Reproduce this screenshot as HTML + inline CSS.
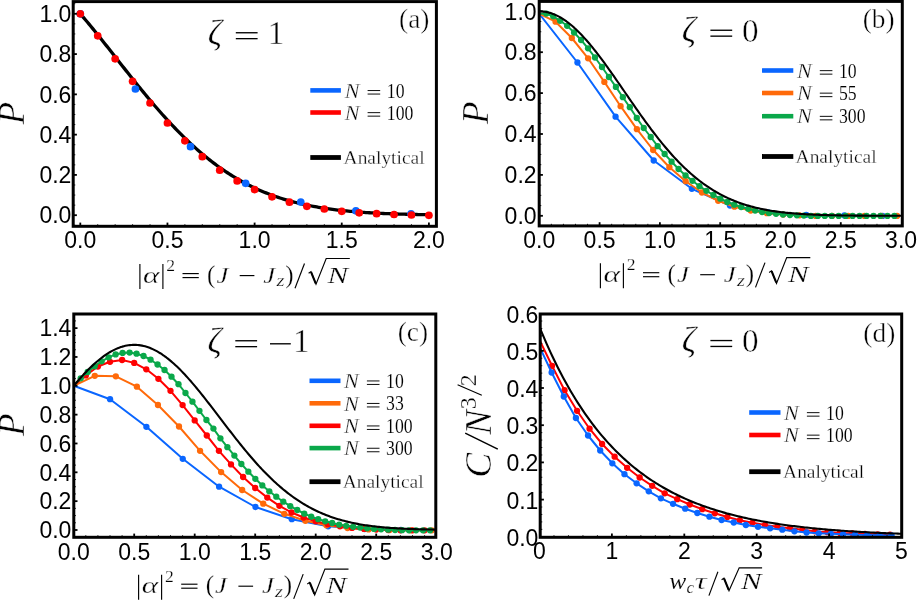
<!DOCTYPE html>
<html lang="en">
<head>
<meta charset="utf-8">
<title>Figure</title>
<style>
html,body{margin:0;padding:0;background:#fff;}
body{width:917px;height:600px;overflow:hidden;font-family:"Liberation Sans",sans-serif;}
svg{display:block;will-change:transform;opacity:0.9999;}
text{fill:#000;}
</style>
</head>
<body>
<svg width="917" height="600" viewBox="0 0 917 600">
<rect width="917" height="600" fill="#fff"/>
<g id="panel-a">
<clipPath id="clipA"><rect x="73.2" y="1.6" width="363.2" height="224.7"/></clipPath>
<g clip-path="url(#clipA)">
<path d="M80.3 13.8 L82.05 15.83 L83.8 17.89 L85.56 19.96 L87.31 22.05 L89.06 24.15 L90.81 26.27 L92.56 28.41 L94.31 30.56 L96.07 32.72 L97.82 34.89 L99.57 37.07 L101.32 39.26 L103.07 41.46 L104.82 43.66 L106.58 45.88 L108.33 48.09 L110.08 50.32 L111.83 52.54 L113.58 54.77 L115.34 57 L117.09 59.23 L118.84 61.45 L120.59 63.68 L122.34 65.91 L124.09 68.13 L125.85 70.35 L127.6 72.56 L129.35 74.77 L131.1 76.97 L132.85 79.17 L134.6 81.36 L136.36 83.54 L138.11 85.71 L139.86 87.87 L141.61 90.01 L143.36 92.15 L145.12 94.28 L146.87 96.39 L148.62 98.49 L150.37 100.57 L152.12 102.65 L153.87 104.7 L155.63 106.74 L157.38 108.77 L159.13 110.77 L160.88 112.76 L162.63 114.74 L164.38 116.69 L166.14 118.63 L167.89 120.54 L169.64 122.44 L171.39 124.32 L173.14 126.18 L174.89 128.01 L176.65 129.83 L178.4 131.63 L180.15 133.4 L181.9 135.15 L183.65 136.89 L185.41 138.6 L187.16 140.28 L188.91 141.95 L190.66 143.59 L192.41 145.21 L194.16 146.81 L195.92 148.38 L197.67 149.93 L199.42 151.46 L201.17 152.96 L202.92 154.45 L204.67 155.9 L206.43 157.34 L208.18 158.75 L209.93 160.14 L211.68 161.5 L213.43 162.84 L215.19 164.16 L216.94 165.46 L218.69 166.73 L220.44 167.98 L222.19 169.21 L223.94 170.41 L225.7 171.59 L227.45 172.75 L229.2 173.88 L230.95 175 L232.7 176.09 L234.45 177.16 L236.21 178.21 L237.96 179.23 L239.71 180.24 L241.46 181.22 L243.21 182.18 L244.97 183.13 L246.72 184.05 L248.47 184.95 L250.22 185.83 L251.97 186.69 L253.72 187.53 L255.48 188.35 L257.23 189.15 L258.98 189.94 L260.73 190.7 L262.48 191.45 L264.23 192.18 L265.99 192.89 L267.74 193.58 L269.49 194.26 L271.24 194.92 L272.99 195.56 L274.75 196.19 L276.5 196.79 L278.25 197.39 L280 197.97 L281.75 198.53 L283.5 199.08 L285.26 199.61 L287.01 200.13 L288.76 200.63 L290.51 201.12 L292.26 201.6 L294.01 202.06 L295.77 202.51 L297.52 202.94 L299.27 203.37 L301.02 203.78 L302.77 204.18 L304.53 204.57 L306.28 204.94 L308.03 205.31 L309.78 205.66 L311.53 206 L313.28 206.34 L315.04 206.66 L316.79 206.97 L318.54 207.27 L320.29 207.57 L322.04 207.85 L323.79 208.12 L325.55 208.39 L327.3 208.65 L329.05 208.89 L330.8 209.13 L332.55 209.37 L334.31 209.59 L336.06 209.81 L337.81 210.02 L339.56 210.22 L341.31 210.42 L343.06 210.6 L344.82 210.79 L346.57 210.96 L348.32 211.13 L350.07 211.3 L351.82 211.45 L353.57 211.61 L355.33 211.75 L357.08 211.89 L358.83 212.03 L360.58 212.16 L362.33 212.29 L364.08 212.41 L365.84 212.53 L367.59 212.64 L369.34 212.75 L371.09 212.85 L372.84 212.95 L374.6 213.05 L376.35 213.14 L378.1 213.23 L379.85 213.32 L381.6 213.4 L383.35 213.48 L385.11 213.55 L386.86 213.63 L388.61 213.7 L390.36 213.76 L392.11 213.83 L393.86 213.89 L395.62 213.95 L397.37 214.01 L399.12 214.06 L400.87 214.11 L402.62 214.16 L404.38 214.21 L406.13 214.26 L407.88 214.3 L409.63 214.34 L411.38 214.38 L413.13 214.42 L414.89 214.46 L416.64 214.49 L418.39 214.53 L420.14 214.56 L421.89 214.59 L423.64 214.62 L425.4 214.65 L427.15 214.68 L428.9 214.7" fill="none" stroke="#000" stroke-width="3.3" stroke-linejoin="round" stroke-linecap="butt"/>
<g fill="#0a66ff"><circle cx="80.3" cy="13.8" r="3.85"/><circle cx="135.42" cy="89" r="3.85"/><circle cx="190.54" cy="146.7" r="3.85"/><circle cx="245.66" cy="183.3" r="3.85"/><circle cx="300.77" cy="202" r="3.85"/><circle cx="355.89" cy="210.8" r="3.85"/><circle cx="411.01" cy="213.8" r="3.85"/></g>
<g fill="#ff0000"><circle cx="80.3" cy="13.8" r="3.85"/><circle cx="97.73" cy="35.8" r="3.85"/><circle cx="115.16" cy="58.8" r="3.85"/><circle cx="132.59" cy="81.3" r="3.85"/><circle cx="150.02" cy="103" r="3.85"/><circle cx="167.45" cy="123" r="3.85"/><circle cx="184.88" cy="140.8" r="3.85"/><circle cx="202.31" cy="156.7" r="3.85"/><circle cx="219.74" cy="170.2" r="3.85"/><circle cx="237.17" cy="180.9" r="3.85"/><circle cx="254.6" cy="189.6" r="3.85"/><circle cx="272.03" cy="196.8" r="3.85"/><circle cx="289.46" cy="202.2" r="3.85"/><circle cx="306.89" cy="206.3" r="3.85"/><circle cx="324.32" cy="209" r="3.85"/><circle cx="341.75" cy="211.3" r="3.85"/><circle cx="359.18" cy="212.8" r="3.85"/><circle cx="376.61" cy="213.7" r="3.85"/><circle cx="394.04" cy="214.5" r="3.85"/><circle cx="411.47" cy="215" r="3.85"/><circle cx="428.9" cy="215.3" r="3.85"/></g>
</g>
<line x1="73.2" y1="215.2" x2="76.9" y2="215.2" stroke="#000" stroke-width="1.8"/>
<line x1="73.2" y1="174.92" x2="76.9" y2="174.92" stroke="#000" stroke-width="1.8"/>
<line x1="73.2" y1="134.64" x2="76.9" y2="134.64" stroke="#000" stroke-width="1.8"/>
<line x1="73.2" y1="94.36" x2="76.9" y2="94.36" stroke="#000" stroke-width="1.8"/>
<line x1="73.2" y1="54.08" x2="76.9" y2="54.08" stroke="#000" stroke-width="1.8"/>
<line x1="73.2" y1="13.8" x2="76.9" y2="13.8" stroke="#000" stroke-width="1.8"/>
<line x1="73.2" y1="225.27" x2="75.3" y2="225.27" stroke="#000" stroke-width="0.9"/>
<line x1="73.2" y1="205.13" x2="75.3" y2="205.13" stroke="#000" stroke-width="0.9"/>
<line x1="73.2" y1="195.06" x2="75.3" y2="195.06" stroke="#000" stroke-width="0.9"/>
<line x1="73.2" y1="184.99" x2="75.3" y2="184.99" stroke="#000" stroke-width="0.9"/>
<line x1="73.2" y1="164.85" x2="75.3" y2="164.85" stroke="#000" stroke-width="0.9"/>
<line x1="73.2" y1="154.78" x2="75.3" y2="154.78" stroke="#000" stroke-width="0.9"/>
<line x1="73.2" y1="144.71" x2="75.3" y2="144.71" stroke="#000" stroke-width="0.9"/>
<line x1="73.2" y1="124.57" x2="75.3" y2="124.57" stroke="#000" stroke-width="0.9"/>
<line x1="73.2" y1="114.5" x2="75.3" y2="114.5" stroke="#000" stroke-width="0.9"/>
<line x1="73.2" y1="104.43" x2="75.3" y2="104.43" stroke="#000" stroke-width="0.9"/>
<line x1="73.2" y1="84.29" x2="75.3" y2="84.29" stroke="#000" stroke-width="0.9"/>
<line x1="73.2" y1="74.22" x2="75.3" y2="74.22" stroke="#000" stroke-width="0.9"/>
<line x1="73.2" y1="64.15" x2="75.3" y2="64.15" stroke="#000" stroke-width="0.9"/>
<line x1="73.2" y1="44.01" x2="75.3" y2="44.01" stroke="#000" stroke-width="0.9"/>
<line x1="73.2" y1="33.94" x2="75.3" y2="33.94" stroke="#000" stroke-width="0.9"/>
<line x1="73.2" y1="23.87" x2="75.3" y2="23.87" stroke="#000" stroke-width="0.9"/>
<line x1="73.2" y1="3.73" x2="75.3" y2="3.73" stroke="#000" stroke-width="0.9"/>
<line x1="80.3" y1="226.3" x2="80.3" y2="222.6" stroke="#000" stroke-width="1.8"/>
<line x1="167.45" y1="226.3" x2="167.45" y2="222.6" stroke="#000" stroke-width="1.8"/>
<line x1="254.6" y1="226.3" x2="254.6" y2="222.6" stroke="#000" stroke-width="1.8"/>
<line x1="341.75" y1="226.3" x2="341.75" y2="222.6" stroke="#000" stroke-width="1.8"/>
<line x1="428.9" y1="226.3" x2="428.9" y2="222.6" stroke="#000" stroke-width="1.8"/>
<line x1="97.73" y1="226.3" x2="97.73" y2="224.2" stroke="#000" stroke-width="0.9"/>
<line x1="115.16" y1="226.3" x2="115.16" y2="224.2" stroke="#000" stroke-width="0.9"/>
<line x1="132.59" y1="226.3" x2="132.59" y2="224.2" stroke="#000" stroke-width="0.9"/>
<line x1="150.02" y1="226.3" x2="150.02" y2="224.2" stroke="#000" stroke-width="0.9"/>
<line x1="184.88" y1="226.3" x2="184.88" y2="224.2" stroke="#000" stroke-width="0.9"/>
<line x1="202.31" y1="226.3" x2="202.31" y2="224.2" stroke="#000" stroke-width="0.9"/>
<line x1="219.74" y1="226.3" x2="219.74" y2="224.2" stroke="#000" stroke-width="0.9"/>
<line x1="237.17" y1="226.3" x2="237.17" y2="224.2" stroke="#000" stroke-width="0.9"/>
<line x1="272.03" y1="226.3" x2="272.03" y2="224.2" stroke="#000" stroke-width="0.9"/>
<line x1="289.46" y1="226.3" x2="289.46" y2="224.2" stroke="#000" stroke-width="0.9"/>
<line x1="306.89" y1="226.3" x2="306.89" y2="224.2" stroke="#000" stroke-width="0.9"/>
<line x1="324.32" y1="226.3" x2="324.32" y2="224.2" stroke="#000" stroke-width="0.9"/>
<line x1="359.18" y1="226.3" x2="359.18" y2="224.2" stroke="#000" stroke-width="0.9"/>
<line x1="376.61" y1="226.3" x2="376.61" y2="224.2" stroke="#000" stroke-width="0.9"/>
<line x1="394.04" y1="226.3" x2="394.04" y2="224.2" stroke="#000" stroke-width="0.9"/>
<line x1="411.47" y1="226.3" x2="411.47" y2="224.2" stroke="#000" stroke-width="0.9"/>
<rect x="73.2" y="1.6" width="363.2" height="224.7" fill="none" stroke="#000" stroke-width="3"/>
<text x="71.4" y="223.45" font-family='"Liberation Sans", sans-serif' font-size="23" text-anchor="end" >0.0</text>
<text x="71.4" y="183.17" font-family='"Liberation Sans", sans-serif' font-size="23" text-anchor="end" >0.2</text>
<text x="71.4" y="142.89" font-family='"Liberation Sans", sans-serif' font-size="23" text-anchor="end" >0.4</text>
<text x="71.4" y="102.61" font-family='"Liberation Sans", sans-serif' font-size="23" text-anchor="end" >0.6</text>
<text x="71.4" y="62.33" font-family='"Liberation Sans", sans-serif' font-size="23" text-anchor="end" >0.8</text>
<text x="71.4" y="22.05" font-family='"Liberation Sans", sans-serif' font-size="23" text-anchor="end" >1.0</text>
<text x="80.3" y="248.4" font-family='"Liberation Sans", sans-serif' font-size="23" text-anchor="middle" >0.0</text>
<text x="167.45" y="248.4" font-family='"Liberation Sans", sans-serif' font-size="23" text-anchor="middle" >0.5</text>
<text x="254.6" y="248.4" font-family='"Liberation Sans", sans-serif' font-size="23" text-anchor="middle" >1.0</text>
<text x="341.75" y="248.4" font-family='"Liberation Sans", sans-serif' font-size="23" text-anchor="middle" >1.5</text>
<text x="428.9" y="248.4" font-family='"Liberation Sans", sans-serif' font-size="23" text-anchor="middle" >2.0</text>
<text transform="translate(24.2 113.3) rotate(-90)" font-family='"Liberation Serif", serif' font-size="37" text-anchor="middle" font-style="italic" stroke="#fff" stroke-width="0.5">P</text>
<line x1="139.9" y1="264.1" x2="139.9" y2="289.1" stroke="#000" stroke-width="1.15"/>
<text x="143" y="282.7" font-family='"Liberation Serif", serif' font-size="24" text-anchor="start" font-style="italic" textLength="16.4" lengthAdjust="spacingAndGlyphs" stroke="#fff" stroke-width="0.32">&#945;</text>
<line x1="162.9" y1="264.1" x2="162.9" y2="289.1" stroke="#000" stroke-width="1.15"/>
<text x="170.6" y="271.1" font-family='"Liberation Serif", serif' font-size="17.6" text-anchor="middle" stroke="#fff" stroke-width="0.25">2</text>
<line x1="182.5" y1="273.6" x2="198.8" y2="273.6" stroke="#000" stroke-width="1.15"/>
<line x1="182.5" y1="277.6" x2="198.8" y2="277.6" stroke="#000" stroke-width="1.15"/>
<text x="211.2" y="282.7" font-family='"Liberation Serif", serif' font-size="25" text-anchor="middle" stroke="#fff" stroke-width="0.25">(</text>
<text x="216.4" y="282.7" font-family='"Liberation Serif", serif' font-size="23" text-anchor="start" font-style="italic" textLength="11.9" lengthAdjust="spacingAndGlyphs" stroke="#fff" stroke-width="0.32">J</text>
<line x1="239.7" y1="275.6" x2="254.4" y2="275.6" stroke="#000" stroke-width="1.15"/>
<text x="263.2" y="282.7" font-family='"Liberation Serif", serif' font-size="23" text-anchor="start" font-style="italic" textLength="11.9" lengthAdjust="spacingAndGlyphs" stroke="#fff" stroke-width="0.32">J</text>
<text x="276.4" y="286.4" font-family='"Liberation Serif", serif' font-size="16.5" text-anchor="start" font-style="italic" textLength="8" lengthAdjust="spacingAndGlyphs" stroke="#fff" stroke-width="0.25">z</text>
<text x="289.3" y="282.7" font-family='"Liberation Serif", serif' font-size="25" text-anchor="middle" stroke="#fff" stroke-width="0.25">)</text>
<line x1="295" y1="288.3" x2="304.5" y2="263.5" stroke="#000" stroke-width="1.15"/>
<path d="M308.6 273.3 L311 271.7 L316 284.3 L326.2 258.5 L349.8 258.5" fill="none" stroke="#000" stroke-width="1.15" stroke-linejoin="miter"/>
<line x1="311.1" y1="272.1" x2="315.7" y2="283.3" stroke="#000" stroke-width="2.1"/>
<text x="327.4" y="282.7" font-family='"Liberation Serif", serif' font-size="23" text-anchor="start" font-style="italic" textLength="20.6" lengthAdjust="spacingAndGlyphs" stroke="#fff" stroke-width="0.22">N</text>
<text x="214.9" y="44.6" font-family='"Liberation Serif", serif' font-size="35.5" text-anchor="middle" font-style="italic" stroke="#fff" stroke-width="0.4">&#950;</text>
<line x1="235.8" y1="32.75" x2="257.6" y2="32.75" stroke="#000" stroke-width="1.35"/>
<line x1="235.8" y1="38.65" x2="257.6" y2="38.65" stroke="#000" stroke-width="1.35"/>
<text x="276" y="44.2" font-family='"Liberation Serif", serif' font-size="33.2" text-anchor="middle" stroke="#fff" stroke-width="0.45">1</text>
<text x="414.3" y="28.2" font-family='"Liberation Serif", serif' font-size="27.4" text-anchor="middle" stroke="#fff" stroke-width="0.4">(a)</text>
<line x1="310.3" y1="90.4" x2="340.9" y2="90.4" stroke="#0a66ff" stroke-width="4.6"/>
<text x="344.8" y="97.6" font-family='"Liberation Serif", serif' font-size="20.8" text-anchor="start" font-style="italic" textLength="14.8" lengthAdjust="spacingAndGlyphs" stroke="#fff" stroke-width="0.3">N</text>
<line x1="367.6" y1="90.55" x2="380.2" y2="90.55" stroke="#000" stroke-width="0.95"/>
<line x1="367.6" y1="94.05" x2="380.2" y2="94.05" stroke="#000" stroke-width="0.95"/>
<text x="386.8" y="97.5" font-family='"Liberation Serif", serif' font-size="20.2" text-anchor="start" textLength="17.7" lengthAdjust="spacingAndGlyphs" stroke="#fff" stroke-width="0.12">10</text>
<line x1="310.3" y1="112.5" x2="340.9" y2="112.5" stroke="#ff0000" stroke-width="4.6"/>
<text x="344.8" y="119.7" font-family='"Liberation Serif", serif' font-size="20.8" text-anchor="start" font-style="italic" textLength="14.8" lengthAdjust="spacingAndGlyphs" stroke="#fff" stroke-width="0.3">N</text>
<line x1="367.6" y1="112.65" x2="380.2" y2="112.65" stroke="#000" stroke-width="0.95"/>
<line x1="367.6" y1="116.15" x2="380.2" y2="116.15" stroke="#000" stroke-width="0.95"/>
<text x="386.8" y="119.6" font-family='"Liberation Serif", serif' font-size="20.2" text-anchor="start" textLength="26.55" lengthAdjust="spacingAndGlyphs" stroke="#fff" stroke-width="0.12">100</text>
<line x1="310.3" y1="157.5" x2="340.9" y2="157.5" stroke="#000" stroke-width="4.8"/>
<text x="343.6" y="164.1" font-family='"Liberation Serif", serif' font-size="19.45" text-anchor="start" stroke="#fff" stroke-width="0.3">Analytical</text>
</g>
<g id="panel-b">
<clipPath id="clipB"><rect x="539.2" y="1.4" width="363.1" height="224.5"/></clipPath>
<g clip-path="url(#clipB)">
<path d="M539.3 13.8 L577.44 62.5 L615.57 116.7 L653.71 160.5 L691.85 188.8 L729.99 205.5 L768.12 212.4 L806.26 214.8 L844.4 215.5 L882.53 215.9" fill="none" stroke="#0a66ff" stroke-width="2" stroke-linejoin="round" />
<g fill="#0a66ff"><circle cx="577.44" cy="62.5" r="3.15"/><circle cx="615.57" cy="116.7" r="3.15"/><circle cx="653.71" cy="160.5" r="3.15"/><circle cx="691.85" cy="188.8" r="3.15"/><circle cx="729.99" cy="205.5" r="3.15"/><circle cx="768.12" cy="212.4" r="3.15"/><circle cx="806.26" cy="214.8" r="3.15"/><circle cx="844.4" cy="215.5" r="3.15"/><circle cx="882.53" cy="215.9" r="3.15"/></g>
<path d="M539.3 13.8 L555.56 21.7 L571.82 38 L588.09 58.3 L604.35 81.9 L620.61 106.2 L636.87 129.2 L653.13 150 L669.39 167.2 L685.66 181.2 L701.92 192.5 L718.18 200.8 L734.44 206.7 L750.7 210.6 L766.96 213.2 L783.23 214.6 L799.49 215.3 L815.75 215.9 L832.01 215.9 L848.27 215.9 L864.53 215.9 L880.8 215.9 L897.06 215.9" fill="none" stroke="#ff6a0a" stroke-width="2" stroke-linejoin="round" />
<g fill="#ff6a0a"><circle cx="555.56" cy="21.7" r="3.15"/><circle cx="571.82" cy="38" r="3.15"/><circle cx="588.09" cy="58.3" r="3.15"/><circle cx="604.35" cy="81.9" r="3.15"/><circle cx="620.61" cy="106.2" r="3.15"/><circle cx="636.87" cy="129.2" r="3.15"/><circle cx="653.13" cy="150" r="3.15"/><circle cx="669.39" cy="167.2" r="3.15"/><circle cx="685.66" cy="181.2" r="3.15"/><circle cx="701.92" cy="192.5" r="3.15"/><circle cx="718.18" cy="200.8" r="3.15"/><circle cx="734.44" cy="206.7" r="3.15"/><circle cx="750.7" cy="210.6" r="3.15"/><circle cx="766.96" cy="213.2" r="3.15"/><circle cx="783.23" cy="214.6" r="3.15"/><circle cx="799.49" cy="215.3" r="3.15"/><circle cx="815.75" cy="215.9" r="3.15"/><circle cx="832.01" cy="215.9" r="3.15"/><circle cx="848.27" cy="215.9" r="3.15"/><circle cx="864.53" cy="215.9" r="3.15"/><circle cx="880.8" cy="215.9" r="3.15"/><circle cx="897.06" cy="215.9" r="3.15"/></g>
<path d="M539.3 13.8 L546.26 13.6 L553.23 16.3 L560.19 20.8 L567.15 25.8 L574.11 32.5 L581.08 40 L588.04 48.3 L595 57.5 L601.97 67 L608.93 77 L615.89 86.9 L622.85 97.2 L629.82 107.2 L636.78 118 L643.74 128 L650.71 137 L657.67 146.2 L664.63 154 L671.59 161.7 L678.56 169 L685.52 175.4 L692.48 180.8 L699.45 186.2 L706.41 190.8 L713.37 195 L720.33 198.7 L727.3 202 L734.26 204.7 L741.22 207 L748.19 208.8 L755.15 210.5 L762.11 212 L769.07 213 L776.04 213.8 L783 214.5 L789.96 215 L796.93 215.3 L803.89 215.6 L810.85 215.9 L817.81 215.9 L824.78 215.9 L831.74 215.9 L838.7 215.9 L845.67 215.9 L852.63 215.9 L859.59 215.9 L866.55 215.9 L873.52 215.9 L880.48 215.9 L887.44 215.9 L894.41 215.9" fill="none" stroke="#0aa84a" stroke-width="2" stroke-linejoin="round" />
<g fill="#0aa84a"><circle cx="546.26" cy="13.6" r="3.15"/><circle cx="553.23" cy="16.3" r="3.15"/><circle cx="560.19" cy="20.8" r="3.15"/><circle cx="567.15" cy="25.8" r="3.15"/><circle cx="574.11" cy="32.5" r="3.15"/><circle cx="581.08" cy="40" r="3.15"/><circle cx="588.04" cy="48.3" r="3.15"/><circle cx="595" cy="57.5" r="3.15"/><circle cx="601.97" cy="67" r="3.15"/><circle cx="608.93" cy="77" r="3.15"/><circle cx="615.89" cy="86.9" r="3.15"/><circle cx="622.85" cy="97.2" r="3.15"/><circle cx="629.82" cy="107.2" r="3.15"/><circle cx="636.78" cy="118" r="3.15"/><circle cx="643.74" cy="128" r="3.15"/><circle cx="650.71" cy="137" r="3.15"/><circle cx="657.67" cy="146.2" r="3.15"/><circle cx="664.63" cy="154" r="3.15"/><circle cx="671.59" cy="161.7" r="3.15"/><circle cx="678.56" cy="169" r="3.15"/><circle cx="685.52" cy="175.4" r="3.15"/><circle cx="692.48" cy="180.8" r="3.15"/><circle cx="699.45" cy="186.2" r="3.15"/><circle cx="706.41" cy="190.8" r="3.15"/><circle cx="713.37" cy="195" r="3.15"/><circle cx="720.33" cy="198.7" r="3.15"/><circle cx="727.3" cy="202" r="3.15"/><circle cx="734.26" cy="204.7" r="3.15"/><circle cx="741.22" cy="207" r="3.15"/><circle cx="748.19" cy="208.8" r="3.15"/><circle cx="755.15" cy="210.5" r="3.15"/><circle cx="762.11" cy="212" r="3.15"/><circle cx="769.07" cy="213" r="3.15"/><circle cx="776.04" cy="213.8" r="3.15"/><circle cx="783" cy="214.5" r="3.15"/><circle cx="789.96" cy="215" r="3.15"/><circle cx="796.93" cy="215.3" r="3.15"/><circle cx="803.89" cy="215.6" r="3.15"/><circle cx="810.85" cy="215.9" r="3.15"/><circle cx="817.81" cy="215.9" r="3.15"/><circle cx="824.78" cy="215.9" r="3.15"/><circle cx="831.74" cy="215.9" r="3.15"/><circle cx="838.7" cy="215.9" r="3.15"/><circle cx="845.67" cy="215.9" r="3.15"/><circle cx="852.63" cy="215.9" r="3.15"/><circle cx="859.59" cy="215.9" r="3.15"/><circle cx="866.55" cy="215.9" r="3.15"/><circle cx="873.52" cy="215.9" r="3.15"/><circle cx="880.48" cy="215.9" r="3.15"/><circle cx="887.44" cy="215.9" r="3.15"/><circle cx="894.41" cy="215.9" r="3.15"/></g>
<path d="M539.3 11.3 L540.81 11.33 L542.33 11.43 L543.84 11.59 L545.36 11.81 L546.87 12.1 L548.38 12.46 L549.9 12.87 L551.41 13.35 L552.92 13.89 L554.44 14.5 L555.95 15.16 L557.47 15.89 L558.98 16.67 L560.49 17.52 L562.01 18.42 L563.52 19.38 L565.03 20.4 L566.55 21.48 L568.06 22.61 L569.58 23.79 L571.09 25.03 L572.6 26.32 L574.12 27.65 L575.63 29.04 L577.15 30.48 L578.66 31.96 L580.17 33.49 L581.69 35.06 L583.2 36.68 L584.71 38.34 L586.23 40.03 L587.74 41.77 L589.26 43.54 L590.77 45.35 L592.28 47.2 L593.8 49.07 L595.31 50.98 L596.82 52.91 L598.34 54.88 L599.85 56.87 L601.37 58.88 L602.88 60.92 L604.39 62.98 L605.91 65.06 L607.42 67.16 L608.94 69.28 L610.45 71.41 L611.96 73.56 L613.48 75.71 L614.99 77.88 L616.5 80.06 L618.02 82.24 L619.53 84.43 L621.05 86.63 L622.56 88.83 L624.07 91.03 L625.59 93.23 L627.1 95.43 L628.61 97.63 L630.13 99.83 L631.64 102.02 L633.16 104.2 L634.67 106.38 L636.18 108.55 L637.7 110.7 L639.21 112.85 L640.73 114.99 L642.24 117.11 L643.75 119.21 L645.27 121.31 L646.78 123.38 L648.29 125.44 L649.81 127.48 L651.32 129.51 L652.84 131.51 L654.35 133.49 L655.86 135.45 L657.38 137.39 L658.89 139.3 L660.4 141.2 L661.92 143.07 L663.43 144.91 L664.95 146.73 L666.46 148.52 L667.97 150.29 L669.49 152.03 L671 153.75 L672.52 155.43 L674.03 157.09 L675.54 158.73 L677.06 160.33 L678.57 161.91 L680.08 163.46 L681.6 164.98 L683.11 166.47 L684.63 167.93 L686.14 169.36 L687.65 170.77 L689.17 172.14 L690.68 173.49 L692.19 174.81 L693.71 176.1 L695.22 177.36 L696.74 178.6 L698.25 179.8 L699.76 180.98 L701.28 182.13 L702.79 183.25 L704.31 184.34 L705.82 185.41 L707.33 186.45 L708.85 187.46 L710.36 188.45 L711.87 189.41 L713.39 190.35 L714.9 191.26 L716.42 192.14 L717.93 193 L719.44 193.84 L720.96 194.65 L722.47 195.44 L723.98 196.2 L725.5 196.94 L727.01 197.66 L728.53 198.36 L730.04 199.04 L731.55 199.69 L733.07 200.33 L734.58 200.94 L736.09 201.54 L737.61 202.11 L739.12 202.67 L740.64 203.2 L742.15 203.72 L743.66 204.22 L745.18 204.71 L746.69 205.17 L748.21 205.62 L749.72 206.06 L751.23 206.48 L752.75 206.88 L754.26 207.27 L755.77 207.65 L757.29 208.01 L758.8 208.35 L760.32 208.69 L761.83 209.01 L763.34 209.32 L764.86 209.61 L766.37 209.9 L767.88 210.17 L769.4 210.43 L770.91 210.68 L772.43 210.93 L773.94 211.16 L775.45 211.38 L776.97 211.59 L778.48 211.8 L780 211.99 L781.51 212.18 L783.02 212.36 L784.54 212.53 L786.05 212.69 L787.56 212.85 L789.08 213 L790.59 213.14 L792.11 213.27 L793.62 213.4 L795.13 213.53 L796.65 213.65 L798.16 213.76 L799.67 213.87 L801.19 213.97 L802.7 214.07 L804.22 214.16 L805.73 214.25 L807.24 214.33 L808.76 214.41 L810.27 214.49 L811.79 214.56 L813.3 214.63 L814.81 214.69 L816.33 214.75 L817.84 214.81 L819.35 214.87 L820.87 214.92 L822.38 214.97 L823.9 215.02 L825.41 215.06 L826.92 215.11 L828.44 215.15 L829.95 215.19 L831.46 215.22 L832.98 215.26 L834.49 215.29 L836.01 215.32 L837.52 215.35 L839.03 215.38 L840.55 215.4 L842.06 215.43 L843.58 215.45 L845.09 215.47 L846.6 215.49 L848.12 215.51 L849.63 215.53 L851.14 215.54 L852.66 215.56 L854.17 215.58 L855.69 215.59 L857.2 215.6 L858.71 215.62 L860.23 215.63 L861.74 215.64 L863.25 215.65 L864.77 215.66 L866.28 215.67 L867.8 215.68 L869.31 215.69 L870.82 215.69 L872.34 215.7 L873.85 215.71 L875.37 215.71 L876.88 215.72 L878.39 215.72 L879.91 215.73 L881.42 215.73 L882.93 215.74 L884.45 215.74 L885.96 215.75 L887.48 215.75 L888.99 215.75 L890.5 215.76 L892.02 215.76 L893.53 215.76 L895.04 215.77 L896.56 215.77 L898.07 215.77 L899.59 215.77 L901.1 215.77" fill="none" stroke="#000" stroke-width="2.1" stroke-linejoin="round" />
</g>
<line x1="539.2" y1="215.8" x2="542.9" y2="215.8" stroke="#000" stroke-width="1.8"/>
<line x1="539.2" y1="174.9" x2="542.9" y2="174.9" stroke="#000" stroke-width="1.8"/>
<line x1="539.2" y1="134" x2="542.9" y2="134" stroke="#000" stroke-width="1.8"/>
<line x1="539.2" y1="93.1" x2="542.9" y2="93.1" stroke="#000" stroke-width="1.8"/>
<line x1="539.2" y1="52.2" x2="542.9" y2="52.2" stroke="#000" stroke-width="1.8"/>
<line x1="539.2" y1="11.3" x2="542.9" y2="11.3" stroke="#000" stroke-width="1.8"/>
<line x1="539.2" y1="226.03" x2="541.3" y2="226.03" stroke="#000" stroke-width="0.9"/>
<line x1="539.2" y1="205.58" x2="541.3" y2="205.58" stroke="#000" stroke-width="0.9"/>
<line x1="539.2" y1="195.35" x2="541.3" y2="195.35" stroke="#000" stroke-width="0.9"/>
<line x1="539.2" y1="185.12" x2="541.3" y2="185.12" stroke="#000" stroke-width="0.9"/>
<line x1="539.2" y1="164.68" x2="541.3" y2="164.68" stroke="#000" stroke-width="0.9"/>
<line x1="539.2" y1="154.45" x2="541.3" y2="154.45" stroke="#000" stroke-width="0.9"/>
<line x1="539.2" y1="144.23" x2="541.3" y2="144.23" stroke="#000" stroke-width="0.9"/>
<line x1="539.2" y1="123.78" x2="541.3" y2="123.78" stroke="#000" stroke-width="0.9"/>
<line x1="539.2" y1="113.55" x2="541.3" y2="113.55" stroke="#000" stroke-width="0.9"/>
<line x1="539.2" y1="103.33" x2="541.3" y2="103.33" stroke="#000" stroke-width="0.9"/>
<line x1="539.2" y1="82.88" x2="541.3" y2="82.88" stroke="#000" stroke-width="0.9"/>
<line x1="539.2" y1="72.65" x2="541.3" y2="72.65" stroke="#000" stroke-width="0.9"/>
<line x1="539.2" y1="62.43" x2="541.3" y2="62.43" stroke="#000" stroke-width="0.9"/>
<line x1="539.2" y1="41.97" x2="541.3" y2="41.97" stroke="#000" stroke-width="0.9"/>
<line x1="539.2" y1="31.75" x2="541.3" y2="31.75" stroke="#000" stroke-width="0.9"/>
<line x1="539.2" y1="21.53" x2="541.3" y2="21.53" stroke="#000" stroke-width="0.9"/>
<line x1="539.2" y1="1.07" x2="541.3" y2="1.07" stroke="#000" stroke-width="0.9"/>
<line x1="599.6" y1="225.9" x2="599.6" y2="222.2" stroke="#000" stroke-width="1.8"/>
<line x1="659.9" y1="225.9" x2="659.9" y2="222.2" stroke="#000" stroke-width="1.8"/>
<line x1="720.2" y1="225.9" x2="720.2" y2="222.2" stroke="#000" stroke-width="1.8"/>
<line x1="780.5" y1="225.9" x2="780.5" y2="222.2" stroke="#000" stroke-width="1.8"/>
<line x1="840.8" y1="225.9" x2="840.8" y2="222.2" stroke="#000" stroke-width="1.8"/>
<line x1="551.36" y1="225.9" x2="551.36" y2="223.8" stroke="#000" stroke-width="0.9"/>
<line x1="563.42" y1="225.9" x2="563.42" y2="223.8" stroke="#000" stroke-width="0.9"/>
<line x1="575.48" y1="225.9" x2="575.48" y2="223.8" stroke="#000" stroke-width="0.9"/>
<line x1="587.54" y1="225.9" x2="587.54" y2="223.8" stroke="#000" stroke-width="0.9"/>
<line x1="611.66" y1="225.9" x2="611.66" y2="223.8" stroke="#000" stroke-width="0.9"/>
<line x1="623.72" y1="225.9" x2="623.72" y2="223.8" stroke="#000" stroke-width="0.9"/>
<line x1="635.78" y1="225.9" x2="635.78" y2="223.8" stroke="#000" stroke-width="0.9"/>
<line x1="647.84" y1="225.9" x2="647.84" y2="223.8" stroke="#000" stroke-width="0.9"/>
<line x1="671.96" y1="225.9" x2="671.96" y2="223.8" stroke="#000" stroke-width="0.9"/>
<line x1="684.02" y1="225.9" x2="684.02" y2="223.8" stroke="#000" stroke-width="0.9"/>
<line x1="696.08" y1="225.9" x2="696.08" y2="223.8" stroke="#000" stroke-width="0.9"/>
<line x1="708.14" y1="225.9" x2="708.14" y2="223.8" stroke="#000" stroke-width="0.9"/>
<line x1="732.26" y1="225.9" x2="732.26" y2="223.8" stroke="#000" stroke-width="0.9"/>
<line x1="744.32" y1="225.9" x2="744.32" y2="223.8" stroke="#000" stroke-width="0.9"/>
<line x1="756.38" y1="225.9" x2="756.38" y2="223.8" stroke="#000" stroke-width="0.9"/>
<line x1="768.44" y1="225.9" x2="768.44" y2="223.8" stroke="#000" stroke-width="0.9"/>
<line x1="792.56" y1="225.9" x2="792.56" y2="223.8" stroke="#000" stroke-width="0.9"/>
<line x1="804.62" y1="225.9" x2="804.62" y2="223.8" stroke="#000" stroke-width="0.9"/>
<line x1="816.68" y1="225.9" x2="816.68" y2="223.8" stroke="#000" stroke-width="0.9"/>
<line x1="828.74" y1="225.9" x2="828.74" y2="223.8" stroke="#000" stroke-width="0.9"/>
<line x1="852.86" y1="225.9" x2="852.86" y2="223.8" stroke="#000" stroke-width="0.9"/>
<line x1="864.92" y1="225.9" x2="864.92" y2="223.8" stroke="#000" stroke-width="0.9"/>
<line x1="876.98" y1="225.9" x2="876.98" y2="223.8" stroke="#000" stroke-width="0.9"/>
<line x1="889.04" y1="225.9" x2="889.04" y2="223.8" stroke="#000" stroke-width="0.9"/>
<rect x="539.2" y="1.4" width="363.1" height="224.5" fill="none" stroke="#000" stroke-width="3"/>
<text x="536.6" y="224.05" font-family='"Liberation Sans", sans-serif' font-size="23" text-anchor="end" >0.0</text>
<text x="536.6" y="183.15" font-family='"Liberation Sans", sans-serif' font-size="23" text-anchor="end" >0.2</text>
<text x="536.6" y="142.25" font-family='"Liberation Sans", sans-serif' font-size="23" text-anchor="end" >0.4</text>
<text x="536.6" y="101.35" font-family='"Liberation Sans", sans-serif' font-size="23" text-anchor="end" >0.6</text>
<text x="536.6" y="60.45" font-family='"Liberation Sans", sans-serif' font-size="23" text-anchor="end" >0.8</text>
<text x="536.6" y="19.55" font-family='"Liberation Sans", sans-serif' font-size="23" text-anchor="end" >1.0</text>
<text x="539.3" y="248.2" font-family='"Liberation Sans", sans-serif' font-size="23" text-anchor="middle" >0.0</text>
<text x="599.6" y="248.2" font-family='"Liberation Sans", sans-serif' font-size="23" text-anchor="middle" >0.5</text>
<text x="659.9" y="248.2" font-family='"Liberation Sans", sans-serif' font-size="23" text-anchor="middle" >1.0</text>
<text x="720.2" y="248.2" font-family='"Liberation Sans", sans-serif' font-size="23" text-anchor="middle" >1.5</text>
<text x="780.5" y="248.2" font-family='"Liberation Sans", sans-serif' font-size="23" text-anchor="middle" >2.0</text>
<text x="840.8" y="248.2" font-family='"Liberation Sans", sans-serif' font-size="23" text-anchor="middle" >2.5</text>
<text x="901.1" y="248.2" font-family='"Liberation Sans", sans-serif' font-size="23" text-anchor="middle" >3.0</text>
<text transform="translate(488.2 112.8) rotate(-90)" font-family='"Liberation Serif", serif' font-size="37" text-anchor="middle" font-style="italic" stroke="#fff" stroke-width="0.5">P</text>
<line x1="600.4" y1="263.2" x2="600.4" y2="288.2" stroke="#000" stroke-width="1.15"/>
<text x="603.5" y="281.8" font-family='"Liberation Serif", serif' font-size="24" text-anchor="start" font-style="italic" textLength="16.4" lengthAdjust="spacingAndGlyphs" stroke="#fff" stroke-width="0.32">&#945;</text>
<line x1="623.4" y1="263.2" x2="623.4" y2="288.2" stroke="#000" stroke-width="1.15"/>
<text x="631.1" y="270.2" font-family='"Liberation Serif", serif' font-size="17.6" text-anchor="middle" stroke="#fff" stroke-width="0.25">2</text>
<line x1="643" y1="272.7" x2="659.3" y2="272.7" stroke="#000" stroke-width="1.15"/>
<line x1="643" y1="276.7" x2="659.3" y2="276.7" stroke="#000" stroke-width="1.15"/>
<text x="671.7" y="281.8" font-family='"Liberation Serif", serif' font-size="25" text-anchor="middle" stroke="#fff" stroke-width="0.25">(</text>
<text x="676.9" y="281.8" font-family='"Liberation Serif", serif' font-size="23" text-anchor="start" font-style="italic" textLength="11.9" lengthAdjust="spacingAndGlyphs" stroke="#fff" stroke-width="0.32">J</text>
<line x1="700.2" y1="274.7" x2="714.9" y2="274.7" stroke="#000" stroke-width="1.15"/>
<text x="723.7" y="281.8" font-family='"Liberation Serif", serif' font-size="23" text-anchor="start" font-style="italic" textLength="11.9" lengthAdjust="spacingAndGlyphs" stroke="#fff" stroke-width="0.32">J</text>
<text x="736.9" y="285.5" font-family='"Liberation Serif", serif' font-size="16.5" text-anchor="start" font-style="italic" textLength="8" lengthAdjust="spacingAndGlyphs" stroke="#fff" stroke-width="0.25">z</text>
<text x="749.8" y="281.8" font-family='"Liberation Serif", serif' font-size="25" text-anchor="middle" stroke="#fff" stroke-width="0.25">)</text>
<line x1="755.5" y1="287.4" x2="765" y2="262.6" stroke="#000" stroke-width="1.15"/>
<path d="M769.1 272.4 L771.5 270.8 L776.5 283.4 L786.7 257.6 L810.3 257.6" fill="none" stroke="#000" stroke-width="1.15" stroke-linejoin="miter"/>
<line x1="771.6" y1="271.2" x2="776.2" y2="282.4" stroke="#000" stroke-width="2.1"/>
<text x="787.9" y="281.8" font-family='"Liberation Serif", serif' font-size="23" text-anchor="start" font-style="italic" textLength="20.6" lengthAdjust="spacingAndGlyphs" stroke="#fff" stroke-width="0.22">N</text>
<text x="689" y="42.1" font-family='"Liberation Serif", serif' font-size="35.5" text-anchor="middle" font-style="italic" stroke="#fff" stroke-width="0.4">&#950;</text>
<line x1="710.4" y1="30.25" x2="732.2" y2="30.25" stroke="#000" stroke-width="1.35"/>
<line x1="710.4" y1="36.15" x2="732.2" y2="36.15" stroke="#000" stroke-width="1.35"/>
<text x="750.4" y="41.7" font-family='"Liberation Serif", serif' font-size="33.2" text-anchor="middle" stroke="#fff" stroke-width="0.45">0</text>
<text x="878.7" y="28.4" font-family='"Liberation Serif", serif' font-size="27.4" text-anchor="middle" stroke="#fff" stroke-width="0.4">(b)</text>
<line x1="762" y1="70.5" x2="793.3" y2="70.5" stroke="#0a66ff" stroke-width="4.6"/>
<text x="797" y="77.7" font-family='"Liberation Serif", serif' font-size="20.8" text-anchor="start" font-style="italic" textLength="14.8" lengthAdjust="spacingAndGlyphs" stroke="#fff" stroke-width="0.3">N</text>
<line x1="819.8" y1="70.65" x2="832.4" y2="70.65" stroke="#000" stroke-width="0.95"/>
<line x1="819.8" y1="74.15" x2="832.4" y2="74.15" stroke="#000" stroke-width="0.95"/>
<text x="839" y="77.6" font-family='"Liberation Serif", serif' font-size="20.2" text-anchor="start" textLength="17.7" lengthAdjust="spacingAndGlyphs" stroke="#fff" stroke-width="0.12">10</text>
<line x1="762" y1="93" x2="793.3" y2="93" stroke="#ff6a0a" stroke-width="4.6"/>
<text x="797" y="100.2" font-family='"Liberation Serif", serif' font-size="20.8" text-anchor="start" font-style="italic" textLength="14.8" lengthAdjust="spacingAndGlyphs" stroke="#fff" stroke-width="0.3">N</text>
<line x1="819.8" y1="93.15" x2="832.4" y2="93.15" stroke="#000" stroke-width="0.95"/>
<line x1="819.8" y1="96.65" x2="832.4" y2="96.65" stroke="#000" stroke-width="0.95"/>
<text x="839" y="100.1" font-family='"Liberation Serif", serif' font-size="20.2" text-anchor="start" textLength="17.7" lengthAdjust="spacingAndGlyphs" stroke="#fff" stroke-width="0.12">55</text>
<line x1="762" y1="116.2" x2="793.3" y2="116.2" stroke="#0aa84a" stroke-width="4.6"/>
<text x="797" y="123.4" font-family='"Liberation Serif", serif' font-size="20.8" text-anchor="start" font-style="italic" textLength="14.8" lengthAdjust="spacingAndGlyphs" stroke="#fff" stroke-width="0.3">N</text>
<line x1="819.8" y1="116.35" x2="832.4" y2="116.35" stroke="#000" stroke-width="0.95"/>
<line x1="819.8" y1="119.85" x2="832.4" y2="119.85" stroke="#000" stroke-width="0.95"/>
<text x="839" y="123.3" font-family='"Liberation Serif", serif' font-size="20.2" text-anchor="start" textLength="26.55" lengthAdjust="spacingAndGlyphs" stroke="#fff" stroke-width="0.12">300</text>
<line x1="762" y1="156.5" x2="793.3" y2="156.5" stroke="#000" stroke-width="4.8"/>
<text x="795.6" y="163.1" font-family='"Liberation Serif", serif' font-size="19.45" text-anchor="start" stroke="#fff" stroke-width="0.3">Analytical</text>
</g>
<g id="panel-c">
<clipPath id="clipC"><rect x="73.8" y="314" width="362" height="223.3"/></clipPath>
<g clip-path="url(#clipC)">
<path d="M73.7 385.8 L110.05 399.2 L146.4 426.8 L182.75 458.8 L219.1 486.7 L255.45 507 L291.8 519.2 L328.15 526.3 L364.5 529 L400.85 530 L437.2 530.3" fill="none" stroke="#0a66ff" stroke-width="2" stroke-linejoin="round" />
<g fill="#0a66ff"><circle cx="110.05" cy="399.2" r="3.15"/><circle cx="146.4" cy="426.8" r="3.15"/><circle cx="182.75" cy="458.8" r="3.15"/><circle cx="219.1" cy="486.7" r="3.15"/><circle cx="255.45" cy="507" r="3.15"/><circle cx="291.8" cy="519.2" r="3.15"/><circle cx="328.15" cy="526.3" r="3.15"/><circle cx="364.5" cy="529" r="3.15"/><circle cx="400.85" cy="530" r="3.15"/></g>
<path d="M73.7 385.8 L94.76 375.8 L115.82 376.3 L136.88 386.7 L157.94 405 L179 426.5 L200.06 450.8 L221.12 472.1 L242.18 490 L263.24 503.7 L284.3 513.8 L305.36 520.8 L326.42 525.3 L347.48 528 L368.54 529.4 L389.6 530.1 L410.66 530.3 L431.72 530.3" fill="none" stroke="#ff6a0a" stroke-width="2" stroke-linejoin="round" />
<g fill="#ff6a0a"><circle cx="94.76" cy="375.8" r="3.15"/><circle cx="115.82" cy="376.3" r="3.15"/><circle cx="136.88" cy="386.7" r="3.15"/><circle cx="157.94" cy="405" r="3.15"/><circle cx="179" cy="426.5" r="3.15"/><circle cx="200.06" cy="450.8" r="3.15"/><circle cx="221.12" cy="472.1" r="3.15"/><circle cx="242.18" cy="490" r="3.15"/><circle cx="263.24" cy="503.7" r="3.15"/><circle cx="284.3" cy="513.8" r="3.15"/><circle cx="305.36" cy="520.8" r="3.15"/><circle cx="326.42" cy="525.3" r="3.15"/><circle cx="347.48" cy="528" r="3.15"/><circle cx="368.54" cy="529.4" r="3.15"/><circle cx="389.6" cy="530.1" r="3.15"/><circle cx="410.66" cy="530.3" r="3.15"/><circle cx="431.72" cy="530.3" r="3.15"/></g>
<path d="M73.7 385.8 L85.8 375.4 L97.9 366.5 L110 361.8 L122.1 360 L134.2 362.9 L146.3 369.3 L158.4 378.8 L170.5 390.8 L182.6 405.1 L194.7 420.4 L206.8 435.5 L218.9 450.8 L231 464.4 L243.1 477 L255.2 488 L267.3 497.6 L279.4 505.8 L291.5 512.5 L303.6 517.5 L315.7 521.3 L327.8 524.2 L339.9 526.3 L352 527.9 L364.1 528.9 L376.2 529.6 L388.3 530.1 L400.4 530.3 L412.5 530.3 L424.6 530.3" fill="none" stroke="#ff0000" stroke-width="2" stroke-linejoin="round" />
<g fill="#ff0000"><circle cx="85.8" cy="375.4" r="3.15"/><circle cx="97.9" cy="366.5" r="3.15"/><circle cx="110" cy="361.8" r="3.15"/><circle cx="122.1" cy="360" r="3.15"/><circle cx="134.2" cy="362.9" r="3.15"/><circle cx="146.3" cy="369.3" r="3.15"/><circle cx="158.4" cy="378.8" r="3.15"/><circle cx="170.5" cy="390.8" r="3.15"/><circle cx="182.6" cy="405.1" r="3.15"/><circle cx="194.7" cy="420.4" r="3.15"/><circle cx="206.8" cy="435.5" r="3.15"/><circle cx="218.9" cy="450.8" r="3.15"/><circle cx="231" cy="464.4" r="3.15"/><circle cx="243.1" cy="477" r="3.15"/><circle cx="255.2" cy="488" r="3.15"/><circle cx="267.3" cy="497.6" r="3.15"/><circle cx="279.4" cy="505.8" r="3.15"/><circle cx="291.5" cy="512.5" r="3.15"/><circle cx="303.6" cy="517.5" r="3.15"/><circle cx="315.7" cy="521.3" r="3.15"/><circle cx="327.8" cy="524.2" r="3.15"/><circle cx="339.9" cy="526.3" r="3.15"/><circle cx="352" cy="527.9" r="3.15"/><circle cx="364.1" cy="528.9" r="3.15"/><circle cx="376.2" cy="529.6" r="3.15"/><circle cx="388.3" cy="530.1" r="3.15"/><circle cx="400.4" cy="530.3" r="3.15"/><circle cx="412.5" cy="530.3" r="3.15"/><circle cx="424.6" cy="530.3" r="3.15"/></g>
<path d="M73.7 385.8 L80.69 378.3 L87.67 372 L94.66 366.3 L101.64 361.3 L108.63 357.3 L115.62 354.4 L122.6 352.9 L129.59 352.6 L136.57 353.7 L143.56 356 L150.55 359.7 L157.53 364.5 L164.52 370 L171.5 376.7 L178.49 384.2 L185.48 393 L192.46 401.7 L199.45 410.8 L206.43 420 L213.42 428.6 L220.41 438.3 L227.39 447.2 L234.38 455.6 L241.36 464 L248.35 471.7 L255.34 478.8 L262.32 485.4 L269.31 491.3 L276.29 496.7 L283.28 501.7 L290.27 506.2 L297.25 510 L304.24 513.7 L311.22 516.7 L318.21 519.2 L325.2 521.3 L332.18 523 L339.17 524.7 L346.15 525.8 L353.14 526.8 L360.13 527.6 L367.11 528.3 L374.1 528.9 L381.08 529.3 L388.07 529.7 L395.06 530 L402.04 530.2 L409.03 530.3 L416.01 530.3 L423 530.3 L429.99 530.3" fill="none" stroke="#0aa84a" stroke-width="2" stroke-linejoin="round" />
<g fill="#0aa84a"><circle cx="80.69" cy="378.3" r="3.15"/><circle cx="87.67" cy="372" r="3.15"/><circle cx="94.66" cy="366.3" r="3.15"/><circle cx="101.64" cy="361.3" r="3.15"/><circle cx="108.63" cy="357.3" r="3.15"/><circle cx="115.62" cy="354.4" r="3.15"/><circle cx="122.6" cy="352.9" r="3.15"/><circle cx="129.59" cy="352.6" r="3.15"/><circle cx="136.57" cy="353.7" r="3.15"/><circle cx="143.56" cy="356" r="3.15"/><circle cx="150.55" cy="359.7" r="3.15"/><circle cx="157.53" cy="364.5" r="3.15"/><circle cx="164.52" cy="370" r="3.15"/><circle cx="171.5" cy="376.7" r="3.15"/><circle cx="178.49" cy="384.2" r="3.15"/><circle cx="185.48" cy="393" r="3.15"/><circle cx="192.46" cy="401.7" r="3.15"/><circle cx="199.45" cy="410.8" r="3.15"/><circle cx="206.43" cy="420" r="3.15"/><circle cx="213.42" cy="428.6" r="3.15"/><circle cx="220.41" cy="438.3" r="3.15"/><circle cx="227.39" cy="447.2" r="3.15"/><circle cx="234.38" cy="455.6" r="3.15"/><circle cx="241.36" cy="464" r="3.15"/><circle cx="248.35" cy="471.7" r="3.15"/><circle cx="255.34" cy="478.8" r="3.15"/><circle cx="262.32" cy="485.4" r="3.15"/><circle cx="269.31" cy="491.3" r="3.15"/><circle cx="276.29" cy="496.7" r="3.15"/><circle cx="283.28" cy="501.7" r="3.15"/><circle cx="290.27" cy="506.2" r="3.15"/><circle cx="297.25" cy="510" r="3.15"/><circle cx="304.24" cy="513.7" r="3.15"/><circle cx="311.22" cy="516.7" r="3.15"/><circle cx="318.21" cy="519.2" r="3.15"/><circle cx="325.2" cy="521.3" r="3.15"/><circle cx="332.18" cy="523" r="3.15"/><circle cx="339.17" cy="524.7" r="3.15"/><circle cx="346.15" cy="525.8" r="3.15"/><circle cx="353.14" cy="526.8" r="3.15"/><circle cx="360.13" cy="527.6" r="3.15"/><circle cx="367.11" cy="528.3" r="3.15"/><circle cx="374.1" cy="528.9" r="3.15"/><circle cx="381.08" cy="529.3" r="3.15"/><circle cx="388.07" cy="529.7" r="3.15"/><circle cx="395.06" cy="530" r="3.15"/><circle cx="402.04" cy="530.2" r="3.15"/><circle cx="409.03" cy="530.3" r="3.15"/><circle cx="416.01" cy="530.3" r="3.15"/><circle cx="423" cy="530.3" r="3.15"/><circle cx="429.99" cy="530.3" r="3.15"/></g>
<path d="M73.7 385.8 L75.22 384 L76.74 382.23 L78.26 380.48 L79.78 378.76 L81.29 377.06 L82.81 375.4 L84.33 373.77 L85.85 372.17 L87.37 370.6 L88.89 369.07 L90.41 367.58 L91.93 366.12 L93.44 364.7 L94.96 363.32 L96.48 361.99 L98 360.69 L99.52 359.45 L101.04 358.24 L102.56 357.08 L104.08 355.97 L105.6 354.91 L107.11 353.89 L108.63 352.93 L110.15 352.01 L111.67 351.15 L113.19 350.34 L114.71 349.59 L116.23 348.88 L117.75 348.24 L119.26 347.64 L120.78 347.11 L122.3 346.63 L123.82 346.2 L125.34 345.83 L126.86 345.52 L128.38 345.27 L129.9 345.08 L131.42 344.94 L132.93 344.86 L134.45 344.84 L135.97 344.88 L137.49 344.98 L139.01 345.14 L140.53 345.35 L142.05 345.62 L143.57 345.95 L145.08 346.34 L146.6 346.78 L148.12 347.28 L149.64 347.83 L151.16 348.45 L152.68 349.11 L154.2 349.83 L155.72 350.61 L157.24 351.43 L158.75 352.31 L160.27 353.24 L161.79 354.23 L163.31 355.26 L164.83 356.34 L166.35 357.46 L167.87 358.64 L169.39 359.86 L170.91 361.12 L172.42 362.43 L173.94 363.78 L175.46 365.17 L176.98 366.6 L178.5 368.07 L180.02 369.58 L181.54 371.12 L183.06 372.7 L184.57 374.31 L186.09 375.95 L187.61 377.62 L189.13 379.33 L190.65 381.06 L192.17 382.82 L193.69 384.6 L195.21 386.4 L196.73 388.23 L198.24 390.08 L199.76 391.95 L201.28 393.84 L202.8 395.74 L204.32 397.66 L205.84 399.59 L207.36 401.53 L208.88 403.49 L210.39 405.45 L211.91 407.43 L213.43 409.41 L214.95 411.39 L216.47 413.38 L217.99 415.37 L219.51 417.37 L221.03 419.36 L222.55 421.35 L224.06 423.34 L225.58 425.33 L227.1 427.31 L228.62 429.29 L230.14 431.26 L231.66 433.22 L233.18 435.17 L234.7 437.11 L236.21 439.04 L237.73 440.96 L239.25 442.87 L240.77 444.76 L242.29 446.64 L243.81 448.5 L245.33 450.34 L246.85 452.17 L248.37 453.98 L249.88 455.77 L251.4 457.54 L252.92 459.3 L254.44 461.03 L255.96 462.74 L257.48 464.43 L259 466.09 L260.52 467.73 L262.03 469.35 L263.55 470.95 L265.07 472.52 L266.59 474.07 L268.11 475.6 L269.63 477.1 L271.15 478.57 L272.67 480.02 L274.19 481.44 L275.7 482.84 L277.22 484.21 L278.74 485.56 L280.26 486.88 L281.78 488.17 L283.3 489.44 L284.82 490.68 L286.34 491.9 L287.85 493.08 L289.37 494.25 L290.89 495.39 L292.41 496.5 L293.93 497.59 L295.45 498.65 L296.97 499.68 L298.49 500.7 L300.01 501.68 L301.52 502.64 L303.04 503.58 L304.56 504.49 L306.08 505.38 L307.6 506.25 L309.12 507.09 L310.64 507.91 L312.16 508.71 L313.67 509.49 L315.19 510.24 L316.71 510.97 L318.23 511.68 L319.75 512.37 L321.27 513.04 L322.79 513.69 L324.31 514.31 L325.83 514.92 L327.34 515.51 L328.86 516.08 L330.38 516.64 L331.9 517.17 L333.42 517.69 L334.94 518.19 L336.46 518.67 L337.98 519.14 L339.49 519.59 L341.01 520.03 L342.53 520.45 L344.05 520.85 L345.57 521.24 L347.09 521.62 L348.61 521.98 L350.13 522.33 L351.65 522.67 L353.16 523 L354.68 523.31 L356.2 523.61 L357.72 523.9 L359.24 524.17 L360.76 524.44 L362.28 524.7 L363.8 524.94 L365.32 525.18 L366.83 525.41 L368.35 525.62 L369.87 525.83 L371.39 526.03 L372.91 526.22 L374.43 526.4 L375.95 526.58 L377.47 526.75 L378.98 526.91 L380.5 527.06 L382.02 527.21 L383.54 527.35 L385.06 527.48 L386.58 527.61 L388.1 527.73 L389.62 527.85 L391.14 527.96 L392.65 528.07 L394.17 528.17 L395.69 528.27 L397.21 528.36 L398.73 528.44 L400.25 528.53 L401.77 528.61 L403.29 528.68 L404.8 528.75 L406.32 528.82 L407.84 528.89 L409.36 528.95 L410.88 529.01 L412.4 529.06 L413.92 529.12 L415.44 529.17 L416.96 529.21 L418.47 529.26 L419.99 529.3 L421.51 529.34 L423.03 529.38 L424.55 529.42 L426.07 529.45 L427.59 529.48 L429.11 529.51 L430.62 529.54 L432.14 529.57 L433.66 529.6 L435.18 529.62 L436.7 529.64" fill="none" stroke="#000" stroke-width="2.1" stroke-linejoin="round" />
</g>
<line x1="73.8" y1="530" x2="77.5" y2="530" stroke="#000" stroke-width="1.8"/>
<line x1="73.8" y1="501.16" x2="77.5" y2="501.16" stroke="#000" stroke-width="1.8"/>
<line x1="73.8" y1="472.32" x2="77.5" y2="472.32" stroke="#000" stroke-width="1.8"/>
<line x1="73.8" y1="443.48" x2="77.5" y2="443.48" stroke="#000" stroke-width="1.8"/>
<line x1="73.8" y1="414.64" x2="77.5" y2="414.64" stroke="#000" stroke-width="1.8"/>
<line x1="73.8" y1="385.8" x2="77.5" y2="385.8" stroke="#000" stroke-width="1.8"/>
<line x1="73.8" y1="356.96" x2="77.5" y2="356.96" stroke="#000" stroke-width="1.8"/>
<line x1="73.8" y1="328.12" x2="77.5" y2="328.12" stroke="#000" stroke-width="1.8"/>
<line x1="73.8" y1="537.21" x2="75.9" y2="537.21" stroke="#000" stroke-width="0.9"/>
<line x1="73.8" y1="522.79" x2="75.9" y2="522.79" stroke="#000" stroke-width="0.9"/>
<line x1="73.8" y1="515.58" x2="75.9" y2="515.58" stroke="#000" stroke-width="0.9"/>
<line x1="73.8" y1="508.37" x2="75.9" y2="508.37" stroke="#000" stroke-width="0.9"/>
<line x1="73.8" y1="493.95" x2="75.9" y2="493.95" stroke="#000" stroke-width="0.9"/>
<line x1="73.8" y1="486.74" x2="75.9" y2="486.74" stroke="#000" stroke-width="0.9"/>
<line x1="73.8" y1="479.53" x2="75.9" y2="479.53" stroke="#000" stroke-width="0.9"/>
<line x1="73.8" y1="465.11" x2="75.9" y2="465.11" stroke="#000" stroke-width="0.9"/>
<line x1="73.8" y1="457.9" x2="75.9" y2="457.9" stroke="#000" stroke-width="0.9"/>
<line x1="73.8" y1="450.69" x2="75.9" y2="450.69" stroke="#000" stroke-width="0.9"/>
<line x1="73.8" y1="436.27" x2="75.9" y2="436.27" stroke="#000" stroke-width="0.9"/>
<line x1="73.8" y1="429.06" x2="75.9" y2="429.06" stroke="#000" stroke-width="0.9"/>
<line x1="73.8" y1="421.85" x2="75.9" y2="421.85" stroke="#000" stroke-width="0.9"/>
<line x1="73.8" y1="407.43" x2="75.9" y2="407.43" stroke="#000" stroke-width="0.9"/>
<line x1="73.8" y1="400.22" x2="75.9" y2="400.22" stroke="#000" stroke-width="0.9"/>
<line x1="73.8" y1="393.01" x2="75.9" y2="393.01" stroke="#000" stroke-width="0.9"/>
<line x1="73.8" y1="378.59" x2="75.9" y2="378.59" stroke="#000" stroke-width="0.9"/>
<line x1="73.8" y1="371.38" x2="75.9" y2="371.38" stroke="#000" stroke-width="0.9"/>
<line x1="73.8" y1="364.17" x2="75.9" y2="364.17" stroke="#000" stroke-width="0.9"/>
<line x1="73.8" y1="349.75" x2="75.9" y2="349.75" stroke="#000" stroke-width="0.9"/>
<line x1="73.8" y1="342.54" x2="75.9" y2="342.54" stroke="#000" stroke-width="0.9"/>
<line x1="73.8" y1="335.33" x2="75.9" y2="335.33" stroke="#000" stroke-width="0.9"/>
<line x1="73.8" y1="320.91" x2="75.9" y2="320.91" stroke="#000" stroke-width="0.9"/>
<line x1="73.8" y1="313.7" x2="75.9" y2="313.7" stroke="#000" stroke-width="0.9"/>
<line x1="134.2" y1="537.3" x2="134.2" y2="533.6" stroke="#000" stroke-width="1.8"/>
<line x1="194.7" y1="537.3" x2="194.7" y2="533.6" stroke="#000" stroke-width="1.8"/>
<line x1="255.2" y1="537.3" x2="255.2" y2="533.6" stroke="#000" stroke-width="1.8"/>
<line x1="315.7" y1="537.3" x2="315.7" y2="533.6" stroke="#000" stroke-width="1.8"/>
<line x1="376.2" y1="537.3" x2="376.2" y2="533.6" stroke="#000" stroke-width="1.8"/>
<line x1="85.8" y1="537.3" x2="85.8" y2="535.2" stroke="#000" stroke-width="0.9"/>
<line x1="97.9" y1="537.3" x2="97.9" y2="535.2" stroke="#000" stroke-width="0.9"/>
<line x1="110" y1="537.3" x2="110" y2="535.2" stroke="#000" stroke-width="0.9"/>
<line x1="122.1" y1="537.3" x2="122.1" y2="535.2" stroke="#000" stroke-width="0.9"/>
<line x1="146.3" y1="537.3" x2="146.3" y2="535.2" stroke="#000" stroke-width="0.9"/>
<line x1="158.4" y1="537.3" x2="158.4" y2="535.2" stroke="#000" stroke-width="0.9"/>
<line x1="170.5" y1="537.3" x2="170.5" y2="535.2" stroke="#000" stroke-width="0.9"/>
<line x1="182.6" y1="537.3" x2="182.6" y2="535.2" stroke="#000" stroke-width="0.9"/>
<line x1="206.8" y1="537.3" x2="206.8" y2="535.2" stroke="#000" stroke-width="0.9"/>
<line x1="218.9" y1="537.3" x2="218.9" y2="535.2" stroke="#000" stroke-width="0.9"/>
<line x1="231" y1="537.3" x2="231" y2="535.2" stroke="#000" stroke-width="0.9"/>
<line x1="243.1" y1="537.3" x2="243.1" y2="535.2" stroke="#000" stroke-width="0.9"/>
<line x1="267.3" y1="537.3" x2="267.3" y2="535.2" stroke="#000" stroke-width="0.9"/>
<line x1="279.4" y1="537.3" x2="279.4" y2="535.2" stroke="#000" stroke-width="0.9"/>
<line x1="291.5" y1="537.3" x2="291.5" y2="535.2" stroke="#000" stroke-width="0.9"/>
<line x1="303.6" y1="537.3" x2="303.6" y2="535.2" stroke="#000" stroke-width="0.9"/>
<line x1="327.8" y1="537.3" x2="327.8" y2="535.2" stroke="#000" stroke-width="0.9"/>
<line x1="339.9" y1="537.3" x2="339.9" y2="535.2" stroke="#000" stroke-width="0.9"/>
<line x1="352" y1="537.3" x2="352" y2="535.2" stroke="#000" stroke-width="0.9"/>
<line x1="364.1" y1="537.3" x2="364.1" y2="535.2" stroke="#000" stroke-width="0.9"/>
<line x1="388.3" y1="537.3" x2="388.3" y2="535.2" stroke="#000" stroke-width="0.9"/>
<line x1="400.4" y1="537.3" x2="400.4" y2="535.2" stroke="#000" stroke-width="0.9"/>
<line x1="412.5" y1="537.3" x2="412.5" y2="535.2" stroke="#000" stroke-width="0.9"/>
<line x1="424.6" y1="537.3" x2="424.6" y2="535.2" stroke="#000" stroke-width="0.9"/>
<rect x="73.8" y="314" width="362" height="223.3" fill="none" stroke="#000" stroke-width="3"/>
<text x="71.4" y="538.25" font-family='"Liberation Sans", sans-serif' font-size="23" text-anchor="end" >0.0</text>
<text x="71.4" y="509.41" font-family='"Liberation Sans", sans-serif' font-size="23" text-anchor="end" >0.2</text>
<text x="71.4" y="480.57" font-family='"Liberation Sans", sans-serif' font-size="23" text-anchor="end" >0.4</text>
<text x="71.4" y="451.73" font-family='"Liberation Sans", sans-serif' font-size="23" text-anchor="end" >0.6</text>
<text x="71.4" y="422.89" font-family='"Liberation Sans", sans-serif' font-size="23" text-anchor="end" >0.8</text>
<text x="71.4" y="394.05" font-family='"Liberation Sans", sans-serif' font-size="23" text-anchor="end" >1.0</text>
<text x="71.4" y="365.21" font-family='"Liberation Sans", sans-serif' font-size="23" text-anchor="end" >1.2</text>
<text x="71.4" y="336.37" font-family='"Liberation Sans", sans-serif' font-size="23" text-anchor="end" >1.4</text>
<text x="73.7" y="559.6" font-family='"Liberation Sans", sans-serif' font-size="23" text-anchor="middle" >0.0</text>
<text x="134.2" y="559.6" font-family='"Liberation Sans", sans-serif' font-size="23" text-anchor="middle" >0.5</text>
<text x="194.7" y="559.6" font-family='"Liberation Sans", sans-serif' font-size="23" text-anchor="middle" >1.0</text>
<text x="255.2" y="559.6" font-family='"Liberation Sans", sans-serif' font-size="23" text-anchor="middle" >1.5</text>
<text x="315.7" y="559.6" font-family='"Liberation Sans", sans-serif' font-size="23" text-anchor="middle" >2.0</text>
<text x="376.2" y="559.6" font-family='"Liberation Sans", sans-serif' font-size="23" text-anchor="middle" >2.5</text>
<text x="436.7" y="559.6" font-family='"Liberation Sans", sans-serif' font-size="23" text-anchor="middle" >3.0</text>
<text transform="translate(24.2 424.7) rotate(-90)" font-family='"Liberation Serif", serif' font-size="37" text-anchor="middle" font-style="italic" stroke="#fff" stroke-width="0.5">P</text>
<line x1="138.6" y1="574.7" x2="138.6" y2="599.7" stroke="#000" stroke-width="1.15"/>
<text x="141.7" y="593.3" font-family='"Liberation Serif", serif' font-size="24" text-anchor="start" font-style="italic" textLength="16.4" lengthAdjust="spacingAndGlyphs" stroke="#fff" stroke-width="0.32">&#945;</text>
<line x1="161.6" y1="574.7" x2="161.6" y2="599.7" stroke="#000" stroke-width="1.15"/>
<text x="169.3" y="581.7" font-family='"Liberation Serif", serif' font-size="17.6" text-anchor="middle" stroke="#fff" stroke-width="0.25">2</text>
<line x1="181.2" y1="584.2" x2="197.5" y2="584.2" stroke="#000" stroke-width="1.15"/>
<line x1="181.2" y1="588.2" x2="197.5" y2="588.2" stroke="#000" stroke-width="1.15"/>
<text x="209.9" y="593.3" font-family='"Liberation Serif", serif' font-size="25" text-anchor="middle" stroke="#fff" stroke-width="0.25">(</text>
<text x="215.1" y="593.3" font-family='"Liberation Serif", serif' font-size="23" text-anchor="start" font-style="italic" textLength="11.9" lengthAdjust="spacingAndGlyphs" stroke="#fff" stroke-width="0.32">J</text>
<line x1="238.4" y1="586.2" x2="253.1" y2="586.2" stroke="#000" stroke-width="1.15"/>
<text x="261.9" y="593.3" font-family='"Liberation Serif", serif' font-size="23" text-anchor="start" font-style="italic" textLength="11.9" lengthAdjust="spacingAndGlyphs" stroke="#fff" stroke-width="0.32">J</text>
<text x="275.1" y="597" font-family='"Liberation Serif", serif' font-size="16.5" text-anchor="start" font-style="italic" textLength="8" lengthAdjust="spacingAndGlyphs" stroke="#fff" stroke-width="0.25">z</text>
<text x="288" y="593.3" font-family='"Liberation Serif", serif' font-size="25" text-anchor="middle" stroke="#fff" stroke-width="0.25">)</text>
<line x1="293.7" y1="598.9" x2="303.2" y2="574.1" stroke="#000" stroke-width="1.15"/>
<path d="M307.3 583.9 L309.7 582.3 L314.7 594.9 L324.9 569.1 L348.5 569.1" fill="none" stroke="#000" stroke-width="1.15" stroke-linejoin="miter"/>
<line x1="309.8" y1="582.7" x2="314.4" y2="593.9" stroke="#000" stroke-width="2.1"/>
<text x="326.1" y="593.3" font-family='"Liberation Serif", serif' font-size="23" text-anchor="start" font-style="italic" textLength="20.6" lengthAdjust="spacingAndGlyphs" stroke="#fff" stroke-width="0.22">N</text>
<text x="214.7" y="352.6" font-family='"Liberation Serif", serif' font-size="35.5" text-anchor="middle" font-style="italic" stroke="#fff" stroke-width="0.4">&#950;</text>
<line x1="235.3" y1="340.75" x2="257.1" y2="340.75" stroke="#000" stroke-width="1.35"/>
<line x1="235.3" y1="346.65" x2="257.1" y2="346.65" stroke="#000" stroke-width="1.35"/>
<line x1="270" y1="343.8" x2="290.8" y2="343.8" stroke="#000" stroke-width="1.35"/>
<text x="301.2" y="352.2" font-family='"Liberation Serif", serif' font-size="33.2" text-anchor="middle" stroke="#fff" stroke-width="0.45">1</text>
<text x="412.9" y="341" font-family='"Liberation Serif", serif' font-size="27.4" text-anchor="middle" stroke="#fff" stroke-width="0.4">(c)</text>
<line x1="309.5" y1="380.8" x2="340.5" y2="380.8" stroke="#0a66ff" stroke-width="4.6"/>
<text x="344.1" y="388" font-family='"Liberation Serif", serif' font-size="20.8" text-anchor="start" font-style="italic" textLength="14.8" lengthAdjust="spacingAndGlyphs" stroke="#fff" stroke-width="0.3">N</text>
<line x1="366.9" y1="380.95" x2="379.5" y2="380.95" stroke="#000" stroke-width="0.95"/>
<line x1="366.9" y1="384.45" x2="379.5" y2="384.45" stroke="#000" stroke-width="0.95"/>
<text x="386.1" y="387.9" font-family='"Liberation Serif", serif' font-size="20.2" text-anchor="start" textLength="17.7" lengthAdjust="spacingAndGlyphs" stroke="#fff" stroke-width="0.12">10</text>
<line x1="309.5" y1="403.3" x2="340.5" y2="403.3" stroke="#ff6a0a" stroke-width="4.6"/>
<text x="344.1" y="410.5" font-family='"Liberation Serif", serif' font-size="20.8" text-anchor="start" font-style="italic" textLength="14.8" lengthAdjust="spacingAndGlyphs" stroke="#fff" stroke-width="0.3">N</text>
<line x1="366.9" y1="403.45" x2="379.5" y2="403.45" stroke="#000" stroke-width="0.95"/>
<line x1="366.9" y1="406.95" x2="379.5" y2="406.95" stroke="#000" stroke-width="0.95"/>
<text x="386.1" y="410.4" font-family='"Liberation Serif", serif' font-size="20.2" text-anchor="start" textLength="17.7" lengthAdjust="spacingAndGlyphs" stroke="#fff" stroke-width="0.12">33</text>
<line x1="309.5" y1="425.8" x2="340.5" y2="425.8" stroke="#ff0000" stroke-width="4.6"/>
<text x="344.1" y="433" font-family='"Liberation Serif", serif' font-size="20.8" text-anchor="start" font-style="italic" textLength="14.8" lengthAdjust="spacingAndGlyphs" stroke="#fff" stroke-width="0.3">N</text>
<line x1="366.9" y1="425.95" x2="379.5" y2="425.95" stroke="#000" stroke-width="0.95"/>
<line x1="366.9" y1="429.45" x2="379.5" y2="429.45" stroke="#000" stroke-width="0.95"/>
<text x="386.1" y="432.9" font-family='"Liberation Serif", serif' font-size="20.2" text-anchor="start" textLength="26.55" lengthAdjust="spacingAndGlyphs" stroke="#fff" stroke-width="0.12">100</text>
<line x1="309.5" y1="448.1" x2="340.5" y2="448.1" stroke="#0aa84a" stroke-width="4.6"/>
<text x="344.1" y="455.3" font-family='"Liberation Serif", serif' font-size="20.8" text-anchor="start" font-style="italic" textLength="14.8" lengthAdjust="spacingAndGlyphs" stroke="#fff" stroke-width="0.3">N</text>
<line x1="366.9" y1="448.25" x2="379.5" y2="448.25" stroke="#000" stroke-width="0.95"/>
<line x1="366.9" y1="451.75" x2="379.5" y2="451.75" stroke="#000" stroke-width="0.95"/>
<text x="386.1" y="455.2" font-family='"Liberation Serif", serif' font-size="20.2" text-anchor="start" textLength="26.55" lengthAdjust="spacingAndGlyphs" stroke="#fff" stroke-width="0.12">300</text>
<line x1="309.5" y1="481.7" x2="340.5" y2="481.7" stroke="#000" stroke-width="4.8"/>
<text x="342.7" y="488.3" font-family='"Liberation Serif", serif' font-size="19.45" text-anchor="start" stroke="#fff" stroke-width="0.3">Analytical</text>
</g>
<g id="panel-d">
<clipPath id="clipD"><rect x="540.2" y="314" width="361.5" height="223.3"/></clipPath>
<g clip-path="url(#clipD)">
<path d="M539.5 340 L552.02 365.8 L564.54 390.2 L577.06 410.8 L589.58 428.7 L602.1 444 L614.62 456.7 L627.14 467.8 L639.66 477.5 L652.18 485.8 L664.7 493.3 L677.22 499.2 L689.74 504.5 L702.26 509.2 L714.78 513.3 L727.3 517 L739.82 520.3 L752.34 522.8 L764.86 525 L777.38 526.7 L789.9 528.3 L802.42 529.7 L814.94 531.3 L827.46 532.2 L839.98 533 L852.5 533.3 L865.02 533.8 L877.54 534.3 L890.06 534.7" fill="none" stroke="#ff0000" stroke-width="2" stroke-linejoin="round" />
<g fill="#ff0000"><circle cx="552.02" cy="365.8" r="3.15"/><circle cx="564.54" cy="390.2" r="3.15"/><circle cx="577.06" cy="410.8" r="3.15"/><circle cx="589.58" cy="428.7" r="3.15"/><circle cx="602.1" cy="444" r="3.15"/><circle cx="614.62" cy="456.7" r="3.15"/><circle cx="627.14" cy="467.8" r="3.15"/><circle cx="639.66" cy="477.5" r="3.15"/><circle cx="652.18" cy="485.8" r="3.15"/><circle cx="664.7" cy="493.3" r="3.15"/><circle cx="677.22" cy="499.2" r="3.15"/><circle cx="689.74" cy="504.5" r="3.15"/><circle cx="702.26" cy="509.2" r="3.15"/><circle cx="714.78" cy="513.3" r="3.15"/><circle cx="727.3" cy="517" r="3.15"/><circle cx="739.82" cy="520.3" r="3.15"/><circle cx="752.34" cy="522.8" r="3.15"/><circle cx="764.86" cy="525" r="3.15"/><circle cx="777.38" cy="526.7" r="3.15"/><circle cx="789.9" cy="528.3" r="3.15"/><circle cx="802.42" cy="529.7" r="3.15"/><circle cx="814.94" cy="531.3" r="3.15"/><circle cx="827.46" cy="532.2" r="3.15"/><circle cx="839.98" cy="533" r="3.15"/><circle cx="852.5" cy="533.3" r="3.15"/><circle cx="865.02" cy="533.8" r="3.15"/><circle cx="877.54" cy="534.3" r="3.15"/><circle cx="890.06" cy="534.7" r="3.15"/></g>
<path d="M539.5 346.7 L551.64 372.5 L563.78 396.5 L575.92 418 L588.06 435.5 L600.2 450.5 L612.34 463.3 L624.48 474.2 L636.62 483.3 L648.76 491.3 L660.9 498.3 L673.04 503.8 L685.18 508.7 L697.32 513 L709.46 516.7 L721.6 520 L733.74 522.5 L745.88 525 L758.02 526.8 L770.16 528.3 L782.3 529.7 L794.44 531.3 L806.58 532.5 L818.72 533.3 L830.86 533.8 L843 534.3 L855.14 534.7 L867.28 535 L879.42 535.3 L891.56 535.5" fill="none" stroke="#0a66ff" stroke-width="2" stroke-linejoin="round" />
<g fill="#0a66ff"><circle cx="551.64" cy="372.5" r="3.15"/><circle cx="563.78" cy="396.5" r="3.15"/><circle cx="575.92" cy="418" r="3.15"/><circle cx="588.06" cy="435.5" r="3.15"/><circle cx="600.2" cy="450.5" r="3.15"/><circle cx="612.34" cy="463.3" r="3.15"/><circle cx="624.48" cy="474.2" r="3.15"/><circle cx="636.62" cy="483.3" r="3.15"/><circle cx="648.76" cy="491.3" r="3.15"/><circle cx="660.9" cy="498.3" r="3.15"/><circle cx="673.04" cy="503.8" r="3.15"/><circle cx="685.18" cy="508.7" r="3.15"/><circle cx="697.32" cy="513" r="3.15"/><circle cx="709.46" cy="516.7" r="3.15"/><circle cx="721.6" cy="520" r="3.15"/><circle cx="733.74" cy="522.5" r="3.15"/><circle cx="745.88" cy="525" r="3.15"/><circle cx="758.02" cy="526.8" r="3.15"/><circle cx="770.16" cy="528.3" r="3.15"/><circle cx="782.3" cy="529.7" r="3.15"/><circle cx="794.44" cy="531.3" r="3.15"/><circle cx="806.58" cy="532.5" r="3.15"/><circle cx="818.72" cy="533.3" r="3.15"/><circle cx="830.86" cy="533.8" r="3.15"/><circle cx="843" cy="534.3" r="3.15"/><circle cx="855.14" cy="534.7" r="3.15"/><circle cx="867.28" cy="535" r="3.15"/><circle cx="879.42" cy="535.3" r="3.15"/><circle cx="891.56" cy="535.5" r="3.15"/></g>
<path d="M539.5 326.92 L541.32 331.34 L543.14 335.67 L544.96 339.91 L546.78 344.05 L548.6 348.12 L550.41 352.09 L552.23 355.98 L554.05 359.79 L555.87 363.52 L557.69 367.17 L559.51 370.75 L561.33 374.24 L563.15 377.67 L564.97 381.02 L566.79 384.3 L568.61 387.52 L570.42 390.66 L572.24 393.74 L574.06 396.76 L575.88 399.71 L577.7 402.59 L579.52 405.42 L581.34 408.19 L583.16 410.9 L584.98 413.55 L586.8 416.15 L588.62 418.69 L590.43 421.18 L592.25 423.62 L594.07 426 L595.89 428.33 L597.71 430.62 L599.53 432.86 L601.35 435.05 L603.17 437.19 L604.99 439.29 L606.81 441.34 L608.63 443.35 L610.44 445.32 L612.26 447.25 L614.08 449.14 L615.9 450.98 L617.72 452.79 L619.54 454.56 L621.36 456.3 L623.18 457.99 L625 459.65 L626.82 461.28 L628.64 462.87 L630.45 464.43 L632.27 465.95 L634.09 467.44 L635.91 468.9 L637.73 470.34 L639.55 471.74 L641.37 473.11 L643.19 474.45 L645.01 475.76 L646.83 477.05 L648.65 478.31 L650.46 479.54 L652.28 480.75 L654.1 481.93 L655.92 483.08 L657.74 484.21 L659.56 485.32 L661.38 486.41 L663.2 487.47 L665.02 488.51 L666.84 489.53 L668.66 490.52 L670.47 491.5 L672.29 492.45 L674.11 493.39 L675.93 494.3 L677.75 495.2 L679.57 496.07 L681.39 496.93 L683.21 497.77 L685.03 498.59 L686.85 499.4 L688.67 500.19 L690.48 500.96 L692.3 501.71 L694.12 502.45 L695.94 503.18 L697.76 503.88 L699.58 504.58 L701.4 505.26 L703.22 505.92 L705.04 506.57 L706.86 507.21 L708.68 507.83 L710.49 508.44 L712.31 509.04 L714.13 509.62 L715.95 510.2 L717.77 510.76 L719.59 511.31 L721.41 511.84 L723.23 512.37 L725.05 512.88 L726.87 513.39 L728.69 513.88 L730.51 514.36 L732.32 514.84 L734.14 515.3 L735.96 515.75 L737.78 516.2 L739.6 516.63 L741.42 517.05 L743.24 517.47 L745.06 517.88 L746.88 518.28 L748.7 518.67 L750.52 519.05 L752.33 519.42 L754.15 519.79 L755.97 520.15 L757.79 520.5 L759.61 520.84 L761.43 521.18 L763.25 521.51 L765.07 521.83 L766.89 522.14 L768.71 522.45 L770.53 522.76 L772.34 523.05 L774.16 523.34 L775.98 523.62 L777.8 523.9 L779.62 524.17 L781.44 524.44 L783.26 524.7 L785.08 524.96 L786.9 525.21 L788.72 525.45 L790.54 525.69 L792.35 525.92 L794.17 526.15 L795.99 526.38 L797.81 526.6 L799.63 526.81 L801.45 527.02 L803.27 527.23 L805.09 527.43 L806.91 527.63 L808.73 527.82 L810.55 528.01 L812.36 528.19 L814.18 528.38 L816 528.55 L817.82 528.73 L819.64 528.9 L821.46 529.06 L823.28 529.23 L825.1 529.39 L826.92 529.54 L828.74 529.69 L830.56 529.84 L832.37 529.99 L834.19 530.13 L836.01 530.28 L837.83 530.41 L839.65 530.55 L841.47 530.68 L843.29 530.81 L845.11 530.93 L846.93 531.06 L848.75 531.18 L850.57 531.3 L852.38 531.41 L854.2 531.53 L856.02 531.64 L857.84 531.75 L859.66 531.85 L861.48 531.96 L863.3 532.06 L865.12 532.16 L866.94 532.26 L868.76 532.35 L870.58 532.45 L872.39 532.54 L874.21 532.63 L876.03 532.72 L877.85 532.8 L879.67 532.89 L881.49 532.97 L883.31 533.05 L885.13 533.13 L886.95 533.21 L888.77 533.28 L890.59 533.36 L892.4 533.43 L894.22 533.5 L896.04 533.57 L897.86 533.64 L899.68 533.7 L901.5 533.77" fill="none" stroke="#000" stroke-width="2.1" stroke-linejoin="round" />
</g>
<line x1="540.2" y1="499.6" x2="543.9" y2="499.6" stroke="#000" stroke-width="1.8"/>
<line x1="540.2" y1="462.4" x2="543.9" y2="462.4" stroke="#000" stroke-width="1.8"/>
<line x1="540.2" y1="425.2" x2="543.9" y2="425.2" stroke="#000" stroke-width="1.8"/>
<line x1="540.2" y1="388" x2="543.9" y2="388" stroke="#000" stroke-width="1.8"/>
<line x1="540.2" y1="350.8" x2="543.9" y2="350.8" stroke="#000" stroke-width="1.8"/>
<line x1="540.2" y1="529.36" x2="542.3" y2="529.36" stroke="#000" stroke-width="0.9"/>
<line x1="540.2" y1="521.92" x2="542.3" y2="521.92" stroke="#000" stroke-width="0.9"/>
<line x1="540.2" y1="514.48" x2="542.3" y2="514.48" stroke="#000" stroke-width="0.9"/>
<line x1="540.2" y1="507.04" x2="542.3" y2="507.04" stroke="#000" stroke-width="0.9"/>
<line x1="540.2" y1="492.16" x2="542.3" y2="492.16" stroke="#000" stroke-width="0.9"/>
<line x1="540.2" y1="484.72" x2="542.3" y2="484.72" stroke="#000" stroke-width="0.9"/>
<line x1="540.2" y1="477.28" x2="542.3" y2="477.28" stroke="#000" stroke-width="0.9"/>
<line x1="540.2" y1="469.84" x2="542.3" y2="469.84" stroke="#000" stroke-width="0.9"/>
<line x1="540.2" y1="454.96" x2="542.3" y2="454.96" stroke="#000" stroke-width="0.9"/>
<line x1="540.2" y1="447.52" x2="542.3" y2="447.52" stroke="#000" stroke-width="0.9"/>
<line x1="540.2" y1="440.08" x2="542.3" y2="440.08" stroke="#000" stroke-width="0.9"/>
<line x1="540.2" y1="432.64" x2="542.3" y2="432.64" stroke="#000" stroke-width="0.9"/>
<line x1="540.2" y1="417.76" x2="542.3" y2="417.76" stroke="#000" stroke-width="0.9"/>
<line x1="540.2" y1="410.32" x2="542.3" y2="410.32" stroke="#000" stroke-width="0.9"/>
<line x1="540.2" y1="402.88" x2="542.3" y2="402.88" stroke="#000" stroke-width="0.9"/>
<line x1="540.2" y1="395.44" x2="542.3" y2="395.44" stroke="#000" stroke-width="0.9"/>
<line x1="540.2" y1="380.56" x2="542.3" y2="380.56" stroke="#000" stroke-width="0.9"/>
<line x1="540.2" y1="373.12" x2="542.3" y2="373.12" stroke="#000" stroke-width="0.9"/>
<line x1="540.2" y1="365.68" x2="542.3" y2="365.68" stroke="#000" stroke-width="0.9"/>
<line x1="540.2" y1="358.24" x2="542.3" y2="358.24" stroke="#000" stroke-width="0.9"/>
<line x1="540.2" y1="343.36" x2="542.3" y2="343.36" stroke="#000" stroke-width="0.9"/>
<line x1="540.2" y1="335.92" x2="542.3" y2="335.92" stroke="#000" stroke-width="0.9"/>
<line x1="540.2" y1="328.48" x2="542.3" y2="328.48" stroke="#000" stroke-width="0.9"/>
<line x1="540.2" y1="321.04" x2="542.3" y2="321.04" stroke="#000" stroke-width="0.9"/>
<line x1="611.9" y1="537.3" x2="611.9" y2="533.6" stroke="#000" stroke-width="1.8"/>
<line x1="684.3" y1="537.3" x2="684.3" y2="533.6" stroke="#000" stroke-width="1.8"/>
<line x1="756.7" y1="537.3" x2="756.7" y2="533.6" stroke="#000" stroke-width="1.8"/>
<line x1="829.1" y1="537.3" x2="829.1" y2="533.6" stroke="#000" stroke-width="1.8"/>
<line x1="553.98" y1="537.3" x2="553.98" y2="535.2" stroke="#000" stroke-width="0.9"/>
<line x1="568.46" y1="537.3" x2="568.46" y2="535.2" stroke="#000" stroke-width="0.9"/>
<line x1="582.94" y1="537.3" x2="582.94" y2="535.2" stroke="#000" stroke-width="0.9"/>
<line x1="597.42" y1="537.3" x2="597.42" y2="535.2" stroke="#000" stroke-width="0.9"/>
<line x1="626.38" y1="537.3" x2="626.38" y2="535.2" stroke="#000" stroke-width="0.9"/>
<line x1="640.86" y1="537.3" x2="640.86" y2="535.2" stroke="#000" stroke-width="0.9"/>
<line x1="655.34" y1="537.3" x2="655.34" y2="535.2" stroke="#000" stroke-width="0.9"/>
<line x1="669.82" y1="537.3" x2="669.82" y2="535.2" stroke="#000" stroke-width="0.9"/>
<line x1="698.78" y1="537.3" x2="698.78" y2="535.2" stroke="#000" stroke-width="0.9"/>
<line x1="713.26" y1="537.3" x2="713.26" y2="535.2" stroke="#000" stroke-width="0.9"/>
<line x1="727.74" y1="537.3" x2="727.74" y2="535.2" stroke="#000" stroke-width="0.9"/>
<line x1="742.22" y1="537.3" x2="742.22" y2="535.2" stroke="#000" stroke-width="0.9"/>
<line x1="771.18" y1="537.3" x2="771.18" y2="535.2" stroke="#000" stroke-width="0.9"/>
<line x1="785.66" y1="537.3" x2="785.66" y2="535.2" stroke="#000" stroke-width="0.9"/>
<line x1="800.14" y1="537.3" x2="800.14" y2="535.2" stroke="#000" stroke-width="0.9"/>
<line x1="814.62" y1="537.3" x2="814.62" y2="535.2" stroke="#000" stroke-width="0.9"/>
<line x1="843.58" y1="537.3" x2="843.58" y2="535.2" stroke="#000" stroke-width="0.9"/>
<line x1="858.06" y1="537.3" x2="858.06" y2="535.2" stroke="#000" stroke-width="0.9"/>
<line x1="872.54" y1="537.3" x2="872.54" y2="535.2" stroke="#000" stroke-width="0.9"/>
<line x1="887.02" y1="537.3" x2="887.02" y2="535.2" stroke="#000" stroke-width="0.9"/>
<rect x="540.2" y="314" width="361.5" height="223.3" fill="none" stroke="#000" stroke-width="3"/>
<text x="538.4" y="545.75" font-family='"Liberation Sans", sans-serif' font-size="23" text-anchor="end" >0.0</text>
<text x="538.4" y="508.55" font-family='"Liberation Sans", sans-serif' font-size="23" text-anchor="end" >0.1</text>
<text x="538.4" y="471.35" font-family='"Liberation Sans", sans-serif' font-size="23" text-anchor="end" >0.2</text>
<text x="538.4" y="434.15" font-family='"Liberation Sans", sans-serif' font-size="23" text-anchor="end" >0.3</text>
<text x="538.4" y="396.95" font-family='"Liberation Sans", sans-serif' font-size="23" text-anchor="end" >0.4</text>
<text x="538.4" y="359.75" font-family='"Liberation Sans", sans-serif' font-size="23" text-anchor="end" >0.5</text>
<text x="538.4" y="322.55" font-family='"Liberation Sans", sans-serif' font-size="23" text-anchor="end" >0.6</text>
<text x="539.5" y="559.3" font-family='"Liberation Sans", sans-serif' font-size="23" text-anchor="middle" >0</text>
<text x="611.9" y="559.3" font-family='"Liberation Sans", sans-serif' font-size="23" text-anchor="middle" >1</text>
<text x="684.3" y="559.3" font-family='"Liberation Sans", sans-serif' font-size="23" text-anchor="middle" >2</text>
<text x="756.7" y="559.3" font-family='"Liberation Sans", sans-serif' font-size="23" text-anchor="middle" >3</text>
<text x="829.1" y="559.3" font-family='"Liberation Sans", sans-serif' font-size="23" text-anchor="middle" >4</text>
<text x="901.5" y="559.3" font-family='"Liberation Sans", sans-serif' font-size="23" text-anchor="middle" >5</text>
<text transform="translate(490.8 465.2) rotate(-90)" font-family='"Liberation Serif", serif' font-size="37.5" text-anchor="middle" font-style="italic" stroke="#fff" stroke-width="0.5">C</text>
<line x1="497.8" y1="449.2" x2="465.2" y2="433.2" stroke="#000" stroke-width="1.5"/>
<text transform="translate(491.2 422.2) rotate(-90)" font-family='"Liberation Serif", serif' font-size="37.5" text-anchor="middle" font-style="italic" stroke="#fff" stroke-width="0.5">N</text>
<text transform="translate(476 403.2) rotate(-90)" font-family='"Liberation Serif", serif' font-size="24" text-anchor="middle" stroke="#fff" stroke-width="0.3">3</text>
<line x1="481.8" y1="395.2" x2="457.6" y2="384.8" stroke="#000" stroke-width="1.15"/>
<text transform="translate(476 380.2) rotate(-90)" font-family='"Liberation Serif", serif' font-size="24" text-anchor="middle" stroke="#fff" stroke-width="0.3">2</text>
<text x="669.2" y="589.2" font-family='"Liberation Serif", serif' font-size="24" text-anchor="start" font-style="italic" textLength="17" lengthAdjust="spacingAndGlyphs" stroke="#fff" stroke-width="0.15">w</text>
<text x="686.4" y="593.1" font-family='"Liberation Serif", serif' font-size="16.5" text-anchor="start" font-style="italic" textLength="7.6" lengthAdjust="spacingAndGlyphs" stroke="#fff" stroke-width="0.2">c</text>
<text x="694.4" y="589.2" font-family='"Liberation Serif", serif' font-size="24" text-anchor="start" font-style="italic" textLength="12.4" lengthAdjust="spacingAndGlyphs" stroke="#fff" stroke-width="0.45">&#964;</text>
<line x1="708.9" y1="595.6" x2="717.9" y2="571.8" stroke="#000" stroke-width="1.15"/>
<path d="M721.6 579.8 L724 578.2 L729 590.8 L739.2 567.8 L762.1 567.8" fill="none" stroke="#000" stroke-width="1.15" stroke-linejoin="miter"/>
<line x1="724.1" y1="578.6" x2="728.7" y2="589.8" stroke="#000" stroke-width="2.1"/>
<text x="741" y="589.2" font-family='"Liberation Serif", serif' font-size="23" text-anchor="start" font-style="italic" textLength="20.6" lengthAdjust="spacingAndGlyphs" stroke="#fff" stroke-width="0.22">N</text>
<text x="689" y="352.4" font-family='"Liberation Serif", serif' font-size="35.5" text-anchor="middle" font-style="italic" stroke="#fff" stroke-width="0.4">&#950;</text>
<line x1="710.4" y1="340.55" x2="732.2" y2="340.55" stroke="#000" stroke-width="1.35"/>
<line x1="710.4" y1="346.45" x2="732.2" y2="346.45" stroke="#000" stroke-width="1.35"/>
<text x="750.4" y="352" font-family='"Liberation Serif", serif' font-size="33.2" text-anchor="middle" stroke="#fff" stroke-width="0.45">0</text>
<text x="879.3" y="341.6" font-family='"Liberation Serif", serif' font-size="27.4" text-anchor="middle" stroke="#fff" stroke-width="0.4">(d)</text>
<line x1="749.2" y1="412.5" x2="780.5" y2="412.5" stroke="#0a66ff" stroke-width="4.6"/>
<text x="784.1" y="419.7" font-family='"Liberation Serif", serif' font-size="20.8" text-anchor="start" font-style="italic" textLength="14.8" lengthAdjust="spacingAndGlyphs" stroke="#fff" stroke-width="0.3">N</text>
<line x1="806.9" y1="412.65" x2="819.5" y2="412.65" stroke="#000" stroke-width="0.95"/>
<line x1="806.9" y1="416.15" x2="819.5" y2="416.15" stroke="#000" stroke-width="0.95"/>
<text x="826.1" y="419.6" font-family='"Liberation Serif", serif' font-size="20.2" text-anchor="start" textLength="17.7" lengthAdjust="spacingAndGlyphs" stroke="#fff" stroke-width="0.12">10</text>
<line x1="749.2" y1="435" x2="780.5" y2="435" stroke="#ff0000" stroke-width="4.6"/>
<text x="784.1" y="442.2" font-family='"Liberation Serif", serif' font-size="20.8" text-anchor="start" font-style="italic" textLength="14.8" lengthAdjust="spacingAndGlyphs" stroke="#fff" stroke-width="0.3">N</text>
<line x1="806.9" y1="435.15" x2="819.5" y2="435.15" stroke="#000" stroke-width="0.95"/>
<line x1="806.9" y1="438.65" x2="819.5" y2="438.65" stroke="#000" stroke-width="0.95"/>
<text x="826.1" y="442.1" font-family='"Liberation Serif", serif' font-size="20.2" text-anchor="start" textLength="26.55" lengthAdjust="spacingAndGlyphs" stroke="#fff" stroke-width="0.12">100</text>
<line x1="749.2" y1="471.7" x2="780.5" y2="471.7" stroke="#000" stroke-width="4.8"/>
<text x="783.1" y="478.3" font-family='"Liberation Serif", serif' font-size="19.45" text-anchor="start" stroke="#fff" stroke-width="0.3">Analytical</text>
</g>
</svg>
</body>
</html>
